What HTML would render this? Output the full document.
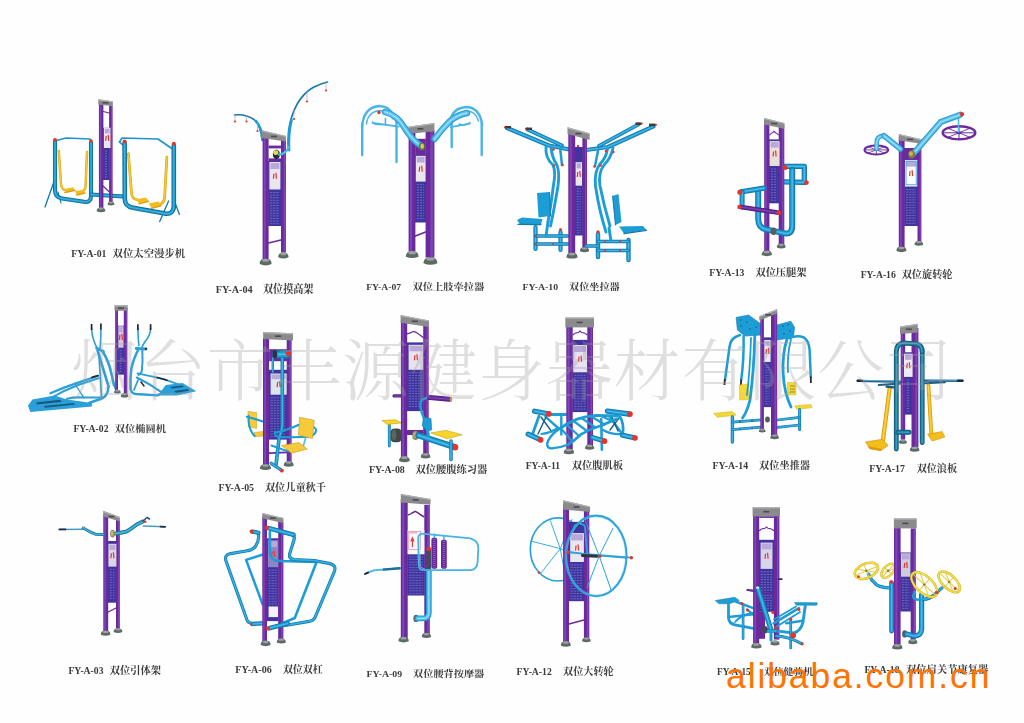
<!DOCTYPE html>
<html lang="zh-CN">
<head>
<meta charset="utf-8">
<title>烟台市丰源健身器材有限公司 - 健身器材</title>
<style>
html,body{margin:0;padding:0;background:#fefefe;}
body{width:1024px;height:723px;overflow:hidden;position:relative;font-family:"Liberation Serif","Noto Serif CJK SC",serif;}
svg{position:absolute;left:0;top:0;display:block;}
.lab text{font-family:"Liberation Serif","Noto Serif CJK SC",serif;font-weight:700;fill:#3a3a3a;}
.wm{font-family:"Liberation Serif","Noto Serif CJK SC",serif;font-size:67px;font-weight:300;fill:#a0a0a0;fill-opacity:.32;}
.ali{font-family:"Liberation Sans",sans-serif;font-size:35.5px;fill:#ff7300;letter-spacing:1.9px;}
</style>
</head>
<body>
<svg width="1024" height="723" viewBox="0 0 1024 723">
<defs><filter id="soft" x="-2%" y="-2%" width="104%" height="104%"><feGaussianBlur stdDeviation="0.65"/></filter></defs>
<rect width="1024" height="723" fill="#fefefe"/>
<g class="lab" filter="url(#soft)">
<text x="71.2" y="256.9" font-size="10.4" textLength="35.3" lengthAdjust="spacingAndGlyphs">FY-A-01</text><text x="112.6" y="256.9" font-size="10.4" textLength="72.5" lengthAdjust="spacingAndGlyphs">双位太空漫步机</text>
<text x="215.7" y="293.4" font-size="11.2" textLength="36.9" lengthAdjust="spacingAndGlyphs">FY-A-04</text><text x="262.9" y="293.4" font-size="11.2" textLength="50.6" lengthAdjust="spacingAndGlyphs">双位摸高架</text>
<text x="366.2" y="290.1" font-size="9.0" textLength="34.8" lengthAdjust="spacingAndGlyphs">FY-A-07</text><text x="412.6" y="290.1" font-size="9.0" textLength="71.8" lengthAdjust="spacingAndGlyphs">双位上肢牵拉器</text>
<text x="522.6" y="289.8" font-size="9.2" textLength="35.5" lengthAdjust="spacingAndGlyphs">FY-A-10</text><text x="569.1" y="289.8" font-size="9.2" textLength="50.6" lengthAdjust="spacingAndGlyphs">双位坐拉器</text>
<text x="709.3" y="275.6" font-size="9.7" textLength="35.1" lengthAdjust="spacingAndGlyphs">FY-A-13</text><text x="755.4" y="275.6" font-size="9.7" textLength="51.2" lengthAdjust="spacingAndGlyphs">双位压腿架</text>
<text x="860.7" y="277.6" font-size="9.7" textLength="35.1" lengthAdjust="spacingAndGlyphs">FY-A-16</text><text x="901.7" y="277.6" font-size="9.7" textLength="50.8" lengthAdjust="spacingAndGlyphs">双位旋转轮</text>
<text x="73.4" y="432.3" font-size="9.6" textLength="35.1" lengthAdjust="spacingAndGlyphs">FY-A-02</text><text x="114.7" y="432.3" font-size="9.6" textLength="51.3" lengthAdjust="spacingAndGlyphs">双位椭圆机</text>
<text x="218.4" y="490.6" font-size="10.0" textLength="35.6" lengthAdjust="spacingAndGlyphs">FY-A-05</text><text x="264.9" y="490.6" font-size="10.0" textLength="61.1" lengthAdjust="spacingAndGlyphs">双位儿童秋千</text>
<text x="368.9" y="472.6" font-size="10.0" textLength="35.9" lengthAdjust="spacingAndGlyphs">FY-A-08</text><text x="415.4" y="472.6" font-size="10.0" textLength="71.8" lengthAdjust="spacingAndGlyphs">双位腰腹练习器</text>
<text x="525.7" y="469.0" font-size="10.1" textLength="34.4" lengthAdjust="spacingAndGlyphs">FY-A-11</text><text x="571.7" y="469.0" font-size="10.1" textLength="51.3" lengthAdjust="spacingAndGlyphs">双位腹肌板</text>
<text x="712.6" y="468.6" font-size="9.7" textLength="35.5" lengthAdjust="spacingAndGlyphs">FY-A-14</text><text x="759.1" y="468.6" font-size="9.7" textLength="50.9" lengthAdjust="spacingAndGlyphs">双位坐推器</text>
<text x="869.3" y="472.0" font-size="10.1" textLength="35.5" lengthAdjust="spacingAndGlyphs">FY-A-17</text><text x="916.7" y="472.0" font-size="10.1" textLength="40.3" lengthAdjust="spacingAndGlyphs">双位浪板</text>
<text x="68.4" y="674.2" font-size="10.0" textLength="35.1" lengthAdjust="spacingAndGlyphs">FY-A-03</text><text x="109.7" y="674.2" font-size="10.0" textLength="51.3" lengthAdjust="spacingAndGlyphs">双位引体架</text>
<text x="235.3" y="673.2" font-size="10.0" textLength="36.4" lengthAdjust="spacingAndGlyphs">FY-A-06</text><text x="282.9" y="673.2" font-size="10.0" textLength="39.9" lengthAdjust="spacingAndGlyphs">双位双杠</text>
<text x="366.6" y="677.1" font-size="9.2" textLength="35.6" lengthAdjust="spacingAndGlyphs">FY-A-09</text><text x="413.1" y="677.1" font-size="9.2" textLength="71.1" lengthAdjust="spacingAndGlyphs">双位腰背按摩器</text>
<text x="516.6" y="674.6" font-size="9.7" textLength="35.2" lengthAdjust="spacingAndGlyphs">FY-A-12</text><text x="563.1" y="674.6" font-size="9.7" textLength="50.6" lengthAdjust="spacingAndGlyphs">双位大转轮</text>
<text x="717.0" y="675.0" font-size="9.6" textLength="33.7" lengthAdjust="spacingAndGlyphs">FY-A-15</text><text x="763.9" y="675.0" font-size="9.6" textLength="49.1" lengthAdjust="spacingAndGlyphs">双位健骑机</text>
<text x="864.4" y="672.6" font-size="10.3" textLength="35.1" lengthAdjust="spacingAndGlyphs">FY-A-18</text><text x="906.1" y="672.6" font-size="10.3" textLength="82.1" lengthAdjust="spacingAndGlyphs">双位肩关节康复器</text>
</g>
<g filter="url(#soft)">
<path d="M54.5,141 L66,138 L90,139 L91,142" stroke="#1c96c8" stroke-width="1.5" fill="none" stroke-linecap="round" stroke-linejoin="round"/>
<path d="M53.5,183 L45,207" stroke="#1478a8" stroke-width="1.3" fill="none" stroke-linecap="round" stroke-linejoin="round"/>
<path d="M58,192 L61,203" stroke="#1478a8" stroke-width="1.1" fill="none" stroke-linecap="round" stroke-linejoin="round"/>
<path d="M58.8,151 L61,184 Q61.5,189.5 66,190.5" stroke="#d99a10" stroke-width="2.4" fill="none" stroke-linecap="round" stroke-linejoin="round"/>
<path d="M58.8,151 L61,184 Q61.5,189.5 66,190.5" stroke="#f3bd1d" stroke-width="1.488" fill="none" stroke-linecap="round" stroke-linejoin="round"/>
<path d="M58.8,151 L61,184 Q61.5,189.5 66,190.5" stroke="#ffd94a" stroke-width="0.528" fill="none" stroke-linecap="round" stroke-linejoin="round"/>
<path d="M87,152 L85.6,186 Q85,192 80,193" stroke="#d99a10" stroke-width="2.4" fill="none" stroke-linecap="round" stroke-linejoin="round"/>
<path d="M87,152 L85.6,186 Q85,192 80,193" stroke="#f3bd1d" stroke-width="1.488" fill="none" stroke-linecap="round" stroke-linejoin="round"/>
<path d="M87,152 L85.6,186 Q85,192 80,193" stroke="#ffd94a" stroke-width="0.528" fill="none" stroke-linecap="round" stroke-linejoin="round"/>
<polygon points="64.5,189 73,187.3 75,190 66.5,192.6" fill="#f3bd1d" stroke="none" stroke-width="0" stroke-linejoin="round"/>
<polygon points="75,191.3 83,189.8 85,193 77,195" fill="#f3bd1d" stroke="none" stroke-width="0" stroke-linejoin="round"/>
<line x1="64.8" y1="192.6" x2="75" y2="190.4" stroke="#d99a10" stroke-width="1.2" stroke-linecap="round"/>
<line x1="76.5" y1="195.2" x2="85" y2="193.2" stroke="#d99a10" stroke-width="1.2" stroke-linecap="round"/>
<path d="M55,141.5 L55,190 Q55,197.5 62,198.5 L84,201.8 Q91,202.8 91,196 L91,142.5" stroke="#0f6c96" stroke-width="4.1" fill="none" stroke-linecap="round" stroke-linejoin="round"/>
<path d="M55,141.5 L55,190 Q55,197.5 62,198.5 L84,201.8 Q91,202.8 91,196 L91,142.5" stroke="#1c96c8" stroke-width="2.542" fill="none" stroke-linecap="round" stroke-linejoin="round"/>
<path d="M55,141.5 L55,190 Q55,197.5 62,198.5 L84,201.8 Q91,202.8 91,196 L91,142.5" stroke="#44b6e2" stroke-width="0.9019999999999999" fill="none" stroke-linecap="round" stroke-linejoin="round"/>
<circle cx="55" cy="139.8" r="1.9" fill="#e5352b"/>
<circle cx="91" cy="140.8" r="1.7" fill="#e5352b"/>
<path d="M91,194.5 L124,196.5" stroke="#0f6c96" stroke-width="4" fill="none" stroke-linecap="round" stroke-linejoin="round"/>
<path d="M91,194.5 L124,196.5" stroke="#1c96c8" stroke-width="2.48" fill="none" stroke-linecap="round" stroke-linejoin="round"/>
<path d="M91,194.5 L124,196.5" stroke="#44b6e2" stroke-width="0.88" fill="none" stroke-linecap="round" stroke-linejoin="round"/>
<rect x="102.9" y="127.8" width="6.699999999999989" height="52.2" fill="#40359f" rx="0"/>
<line x1="104.9" y1="151.0" x2="107.6" y2="151.0" stroke="#9c98e0" stroke-width="0.7" stroke-dasharray="2.2 0.9" opacity="0.75"/>
<line x1="104.9" y1="153.6" x2="107.6" y2="153.6" stroke="#9c98e0" stroke-width="0.7" stroke-dasharray="2.2 0.9" opacity="0.75"/>
<line x1="104.9" y1="156.2" x2="107.6" y2="156.2" stroke="#9c98e0" stroke-width="0.7" stroke-dasharray="2.2 0.9" opacity="0.75"/>
<line x1="104.9" y1="158.8" x2="107.6" y2="158.8" stroke="#9c98e0" stroke-width="0.7" stroke-dasharray="2.2 0.9" opacity="0.75"/>
<line x1="104.9" y1="161.4" x2="107.6" y2="161.4" stroke="#9c98e0" stroke-width="0.7" stroke-dasharray="2.2 0.9" opacity="0.75"/>
<line x1="104.9" y1="164.0" x2="107.6" y2="164.0" stroke="#9c98e0" stroke-width="0.7" stroke-dasharray="2.2 0.9" opacity="0.75"/>
<line x1="104.9" y1="166.6" x2="107.6" y2="166.6" stroke="#9c98e0" stroke-width="0.7" stroke-dasharray="2.2 0.9" opacity="0.75"/>
<line x1="104.9" y1="169.2" x2="107.6" y2="169.2" stroke="#9c98e0" stroke-width="0.7" stroke-dasharray="2.2 0.9" opacity="0.75"/>
<line x1="104.9" y1="171.8" x2="107.6" y2="171.8" stroke="#9c98e0" stroke-width="0.7" stroke-dasharray="2.2 0.9" opacity="0.75"/>
<line x1="104.9" y1="174.4" x2="107.6" y2="174.4" stroke="#9c98e0" stroke-width="0.7" stroke-dasharray="2.2 0.9" opacity="0.75"/>
<line x1="104.9" y1="177.0" x2="107.6" y2="177.0" stroke="#9c98e0" stroke-width="0.7" stroke-dasharray="2.2 0.9" opacity="0.75"/>
<rect x="109.1" y="106" width="3.5" height="97" fill="#6a2a9e" rx="0"/>
<rect x="111.02499999999999" y="106" width="1.05" height="97" fill="#7e44b4" rx="0"/>
<rect x="98.9" y="103" width="4.5" height="106" fill="#6a2a9e" rx="0"/>
<rect x="99.80000000000001" y="103" width="1.3499999999999999" height="106" fill="#7e44b4" rx="0"/>
<rect x="103.9" y="127.8" width="6.599999999999994" height="20.200000000000003" fill="#e9e6ee" rx="0"/>
<path d="M105.7,140.9 L106.2,135.9 M108.7,140.9 L108.2,134.9" stroke="#e5352b" stroke-width="1.2" fill="none"/>
<rect x="104.9" y="128.8" width="4.599999999999994" height="4.444000000000001" fill="#b9a8d8" rx="0"/>
<polygon points="98.3,99.2 112.8,101.2 112.8,106.2 98.3,104.4" fill="#8b8b8d" stroke="none" stroke-width="0" stroke-linejoin="round"/>
<line x1="98.3" y1="99.8" x2="112.8" y2="101.8" stroke="#b5b5b8" stroke-width="1.2"/>
<rect x="102.55" y="101.95" width="6" height="1.6" fill="#4c4c50" rx="0"/>
<path d="M96.6,211.24 Q96.6,207.4 101,207.4 Q105.4,207.4 105.4,211.24 Q101,213.16000000000003 96.6,211.24Z" fill="#5f6a66"/>
<ellipse cx="101" cy="208.60000000000002" rx="2.64" ry="1.08" fill="#9aa5a0"/>
<path d="M107.6,204.79999999999998 Q107.6,201.6 111,201.6 Q114.4,201.6 114.4,204.79999999999998 Q111,206.4 107.6,204.79999999999998Z" fill="#5f6a66"/>
<ellipse cx="111" cy="202.6" rx="2.04" ry="0.9" fill="#9aa5a0"/>
<path d="M103.4,111.5 L109.1,113" stroke="#6a2a9e" stroke-width="1.2" fill="none" stroke-linecap="round" stroke-linejoin="round"/>
<line x1="103" y1="186" x2="109.4" y2="192" stroke="#6a2a9e" stroke-width="1.2" stroke-linecap="round"/>
<path d="M119.5,142 L122,138 L158,139 L172.5,149" stroke="#1c96c8" stroke-width="1.7" fill="none" stroke-linecap="round" stroke-linejoin="round"/>
<path d="M119.5,142 L124,146" stroke="#1c96c8" stroke-width="1.6" fill="none" stroke-linecap="round" stroke-linejoin="round"/>
<path d="M172.5,195.6 L179.4,214.5" stroke="#1478a8" stroke-width="1.3" fill="none" stroke-linecap="round" stroke-linejoin="round"/>
<path d="M168.6,201 L159.7,221.6" stroke="#1478a8" stroke-width="1.3" fill="none" stroke-linecap="round" stroke-linejoin="round"/>
<path d="M128.4,153.5 L131.6,194 Q132,198.5 137.5,200" stroke="#d99a10" stroke-width="2.7" fill="none" stroke-linecap="round" stroke-linejoin="round"/>
<path d="M128.4,153.5 L131.6,194 Q132,198.5 137.5,200" stroke="#f3bd1d" stroke-width="1.6740000000000002" fill="none" stroke-linecap="round" stroke-linejoin="round"/>
<path d="M128.4,153.5 L131.6,194 Q132,198.5 137.5,200" stroke="#ffd94a" stroke-width="0.5940000000000001" fill="none" stroke-linecap="round" stroke-linejoin="round"/>
<path d="M166.9,157 L164.6,198 Q164,203.5 158.5,204.8" stroke="#d99a10" stroke-width="2.7" fill="none" stroke-linecap="round" stroke-linejoin="round"/>
<path d="M166.9,157 L164.6,198 Q164,203.5 158.5,204.8" stroke="#f3bd1d" stroke-width="1.6740000000000002" fill="none" stroke-linecap="round" stroke-linejoin="round"/>
<path d="M166.9,157 L164.6,198 Q164,203.5 158.5,204.8" stroke="#ffd94a" stroke-width="0.5940000000000001" fill="none" stroke-linecap="round" stroke-linejoin="round"/>
<polygon points="136.5,199.3 146,197.6 148.6,201 139,203.6" fill="#f3bd1d" stroke="none" stroke-width="0" stroke-linejoin="round"/>
<polygon points="148.6,203.6 158.5,201.5 161,205.5 151.5,208" fill="#f3bd1d" stroke="none" stroke-width="0" stroke-linejoin="round"/>
<line x1="139" y1="203.9" x2="148.6" y2="201.4" stroke="#d99a10" stroke-width="1.3" stroke-linecap="round"/>
<line x1="151.5" y1="208.3" x2="161" y2="205.9" stroke="#d99a10" stroke-width="1.3" stroke-linecap="round"/>
<path d="M124.6,143 L124.8,199 Q125,206.5 133,207.8 L165,213.6 Q173.4,214.6 173.8,206.5 L173.8,145.5" stroke="#0f6c96" stroke-width="4.6" fill="none" stroke-linecap="round" stroke-linejoin="round"/>
<path d="M124.6,143 L124.8,199 Q125,206.5 133,207.8 L165,213.6 Q173.4,214.6 173.8,206.5 L173.8,145.5" stroke="#1c96c8" stroke-width="2.852" fill="none" stroke-linecap="round" stroke-linejoin="round"/>
<path d="M124.6,143 L124.8,199 Q125,206.5 133,207.8 L165,213.6 Q173.4,214.6 173.8,206.5 L173.8,145.5" stroke="#44b6e2" stroke-width="1.012" fill="none" stroke-linecap="round" stroke-linejoin="round"/>
<circle cx="124.6" cy="141.6" r="2" fill="#e5352b"/>
<circle cx="173.8" cy="143.8" r="2" fill="#e5352b"/>
<path d="M262,140 Q261,126 254,119.5 Q245,113.5 234.5,115" stroke="#1478a8" stroke-width="1.6" fill="none" stroke-linecap="round" stroke-linejoin="round"/>
<path d="M262.5,140 Q262,128 256,121" stroke="#1f9dd6" stroke-width="2.6" fill="none" stroke-linecap="round" stroke-linejoin="round"/>
<line x1="235" y1="115.5" x2="235" y2="121.5" stroke="#b8a0c8" stroke-width="0.7" stroke-linecap="round"/>
<circle cx="235" cy="121.5" r="1.1" fill="#e5352b"/>
<line x1="246.5" y1="115.5" x2="246.5" y2="121.5" stroke="#b8a0c8" stroke-width="0.7" stroke-linecap="round"/>
<circle cx="246.5" cy="121.5" r="1.1" fill="#e5352b"/>
<line x1="257.5" y1="123" x2="257.5" y2="131" stroke="#b8a0c8" stroke-width="0.7" stroke-linecap="round"/>
<circle cx="257.5" cy="131" r="1.1" fill="#e5352b"/>
<path d="M288.5,149 Q287,130 292,116 Q299,95 314,87 Q321,83.5 327.5,82" stroke="#1478a8" stroke-width="1.7" fill="none" stroke-linecap="round" stroke-linejoin="round"/>
<path d="M289,150 Q288,134 291.5,120" stroke="#1f9dd6" stroke-width="2.8" fill="none" stroke-linecap="round" stroke-linejoin="round"/>
<line x1="326" y1="82.5" x2="326" y2="90.5" stroke="#b8a0c8" stroke-width="0.7" stroke-linecap="round"/>
<circle cx="326" cy="90.5" r="1.1" fill="#e5352b"/>
<line x1="307" y1="91.5" x2="307" y2="101.5" stroke="#b8a0c8" stroke-width="0.7" stroke-linecap="round"/>
<circle cx="307" cy="101.5" r="1.1" fill="#e5352b"/>
<line x1="294" y1="110" x2="294" y2="119" stroke="#b8a0c8" stroke-width="0.7" stroke-linecap="round"/>
<circle cx="294" cy="119" r="1.1" fill="#e5352b"/>
<rect x="268.1" y="161" width="13.399999999999977" height="65" fill="#40359f" rx="0"/>
<line x1="270.1" y1="192.5" x2="279.5" y2="192.5" stroke="#9c98e0" stroke-width="0.7" stroke-dasharray="2.2 0.9" opacity="0.75"/>
<line x1="270.1" y1="195.1" x2="279.5" y2="195.1" stroke="#9c98e0" stroke-width="0.7" stroke-dasharray="2.2 0.9" opacity="0.75"/>
<line x1="270.1" y1="197.7" x2="279.5" y2="197.7" stroke="#9c98e0" stroke-width="0.7" stroke-dasharray="2.2 0.9" opacity="0.75"/>
<line x1="270.1" y1="200.3" x2="279.5" y2="200.3" stroke="#9c98e0" stroke-width="0.7" stroke-dasharray="2.2 0.9" opacity="0.75"/>
<line x1="270.1" y1="202.9" x2="279.5" y2="202.9" stroke="#9c98e0" stroke-width="0.7" stroke-dasharray="2.2 0.9" opacity="0.75"/>
<line x1="270.1" y1="205.5" x2="279.5" y2="205.5" stroke="#9c98e0" stroke-width="0.7" stroke-dasharray="2.2 0.9" opacity="0.75"/>
<line x1="270.1" y1="208.1" x2="279.5" y2="208.1" stroke="#9c98e0" stroke-width="0.7" stroke-dasharray="2.2 0.9" opacity="0.75"/>
<line x1="270.1" y1="210.7" x2="279.5" y2="210.7" stroke="#9c98e0" stroke-width="0.7" stroke-dasharray="2.2 0.9" opacity="0.75"/>
<line x1="270.1" y1="213.3" x2="279.5" y2="213.3" stroke="#9c98e0" stroke-width="0.7" stroke-dasharray="2.2 0.9" opacity="0.75"/>
<line x1="270.1" y1="215.9" x2="279.5" y2="215.9" stroke="#9c98e0" stroke-width="0.7" stroke-dasharray="2.2 0.9" opacity="0.75"/>
<line x1="270.1" y1="218.5" x2="279.5" y2="218.5" stroke="#9c98e0" stroke-width="0.7" stroke-dasharray="2.2 0.9" opacity="0.75"/>
<line x1="270.1" y1="221.1" x2="279.5" y2="221.1" stroke="#9c98e0" stroke-width="0.7" stroke-dasharray="2.2 0.9" opacity="0.75"/>
<line x1="270.1" y1="223.7" x2="279.5" y2="223.7" stroke="#9c98e0" stroke-width="0.7" stroke-dasharray="2.2 0.9" opacity="0.75"/>
<rect x="281" y="140" width="4.899999999999977" height="112.5" fill="#6a2a9e" rx="0"/>
<rect x="283.695" y="140" width="1.469999999999993" height="112.5" fill="#7e44b4" rx="0"/>
<rect x="262.6" y="137" width="6.0" height="122" fill="#6a2a9e" rx="0"/>
<rect x="263.8" y="137" width="1.7999999999999998" height="122" fill="#7e44b4" rx="0"/>
<rect x="269.4" y="162" width="11.0" height="27.5" fill="#e9e6ee" rx="0"/>
<path d="M273.4,178.75 L273.9,173.75 M276.4,178.75 L275.9,172.75" stroke="#e5352b" stroke-width="1.2" fill="none"/>
<rect x="270.4" y="163" width="9.0" height="6.05" fill="#b9a8d8" rx="0"/>
<polygon points="262,130.3 285.9,135.9 285.9,141.6 262,138" fill="#8b8b8d" stroke="none" stroke-width="0" stroke-linejoin="round"/>
<line x1="262" y1="130.9" x2="285.9" y2="136.5" stroke="#b5b5b8" stroke-width="1.2"/>
<rect x="270.95" y="135.65" width="6" height="1.6" fill="#4c4c50" rx="0"/>
<path d="M259.6,264.04 Q259.6,258.6 265.6,258.6 Q271.6,258.6 271.6,264.04 Q265.6,266.76 259.6,264.04Z" fill="#5f6a66"/>
<ellipse cx="265.6" cy="260.3" rx="3.5999999999999996" ry="1.53" fill="#9aa5a0"/>
<path d="M278.2,257.2 Q278.2,252.4 283.4,252.4 Q288.59999999999997,252.4 288.59999999999997,257.2 Q283.4,259.6 278.2,257.2Z" fill="#5f6a66"/>
<ellipse cx="283.4" cy="253.9" rx="3.12" ry="1.35" fill="#9aa5a0"/>
<rect x="268.6" y="145.6" width="12.4" height="2.8" fill="#6a2a9e" rx="0"/>
<rect x="268.6" y="158.4" width="12.4" height="2.6" fill="#6a2a9e" rx="0"/>
<ellipse cx="276.4" cy="154.4" rx="3.6" ry="4.6" fill="#262a3a" stroke="none" stroke-width="0"/>
<ellipse cx="275.8" cy="152.6" rx="2.6" ry="2.4" fill="#e6dc4a" stroke="none" stroke-width="0"/>
<path d="M279,154.6 Q286,154 288.8,147" stroke="#4cbcea" stroke-width="2.2" fill="none" stroke-linecap="round" stroke-linejoin="round"/>
<line x1="268.6" y1="243" x2="281" y2="240" stroke="#6a2a9e" stroke-width="1.6" stroke-linecap="round"/>
<path d="M362,128 Q363,107.5 379,106 Q392,106.5 396.5,122" stroke="#4ab4e6" stroke-width="2.3" fill="none" stroke-linecap="round" stroke-linejoin="round"/>
<path d="M366.5,124 Q368,111.5 380,110.5 Q389,111 393,119" stroke="#4ab4e6" stroke-width="1.4" fill="none" stroke-linecap="round" stroke-linejoin="round"/>
<line x1="362.2" y1="124" x2="362.2" y2="155" stroke="#4ab4e6" stroke-width="2.4" stroke-linecap="round"/>
<line x1="396.5" y1="122" x2="396.5" y2="162" stroke="#4ab4e6" stroke-width="2.4" stroke-linecap="round"/>
<line x1="372.8" y1="123" x2="398.8" y2="126.7" stroke="#4ab4e6" stroke-width="1.8" stroke-linecap="round"/>
<line x1="385.4" y1="118.5" x2="385.4" y2="124.6" stroke="#4ab4e6" stroke-width="1.6" stroke-linecap="round"/>
<path d="M372.4,122 Q375,125.4 383,124.4" stroke="#4ab4e6" stroke-width="1.4" fill="none" stroke-linecap="round" stroke-linejoin="round"/>
<circle cx="379" cy="112.5" r="1.7" fill="#e5352b"/>
<path d="M450.5,121 Q452,108 467,107 Q480,108 482.2,125" stroke="#4ab4e6" stroke-width="2.3" fill="none" stroke-linecap="round" stroke-linejoin="round"/>
<path d="M454.5,119 Q457,111.5 467,111 Q476,111.5 478.5,121" stroke="#4ab4e6" stroke-width="1.4" fill="none" stroke-linecap="round" stroke-linejoin="round"/>
<line x1="451.7" y1="122" x2="451.7" y2="147" stroke="#4ab4e6" stroke-width="2.4" stroke-linecap="round"/>
<line x1="481.7" y1="123" x2="481.7" y2="155" stroke="#4ab4e6" stroke-width="2.4" stroke-linecap="round"/>
<line x1="450.7" y1="127.1" x2="469.8" y2="123.7" stroke="#4ab4e6" stroke-width="1.8" stroke-linecap="round"/>
<path d="M459,124 Q466,126.4 470,122.6" stroke="#4ab4e6" stroke-width="1.4" fill="none" stroke-linecap="round" stroke-linejoin="round"/>
<circle cx="466.5" cy="114" r="1.5" fill="#e5352b"/>
<rect x="414.9" y="155" width="11.200000000000045" height="67.5" fill="#40359f" rx="0"/>
<line x1="416.9" y1="184.6" x2="424.1" y2="184.6" stroke="#9c98e0" stroke-width="0.7" stroke-dasharray="2.2 0.9" opacity="0.75"/>
<line x1="416.9" y1="187.2" x2="424.1" y2="187.2" stroke="#9c98e0" stroke-width="0.7" stroke-dasharray="2.2 0.9" opacity="0.75"/>
<line x1="416.9" y1="189.8" x2="424.1" y2="189.8" stroke="#9c98e0" stroke-width="0.7" stroke-dasharray="2.2 0.9" opacity="0.75"/>
<line x1="416.9" y1="192.4" x2="424.1" y2="192.4" stroke="#9c98e0" stroke-width="0.7" stroke-dasharray="2.2 0.9" opacity="0.75"/>
<line x1="416.9" y1="195.0" x2="424.1" y2="195.0" stroke="#9c98e0" stroke-width="0.7" stroke-dasharray="2.2 0.9" opacity="0.75"/>
<line x1="416.9" y1="197.6" x2="424.1" y2="197.6" stroke="#9c98e0" stroke-width="0.7" stroke-dasharray="2.2 0.9" opacity="0.75"/>
<line x1="416.9" y1="200.2" x2="424.1" y2="200.2" stroke="#9c98e0" stroke-width="0.7" stroke-dasharray="2.2 0.9" opacity="0.75"/>
<line x1="416.9" y1="202.8" x2="424.1" y2="202.8" stroke="#9c98e0" stroke-width="0.7" stroke-dasharray="2.2 0.9" opacity="0.75"/>
<line x1="416.9" y1="205.4" x2="424.1" y2="205.4" stroke="#9c98e0" stroke-width="0.7" stroke-dasharray="2.2 0.9" opacity="0.75"/>
<line x1="416.9" y1="208.0" x2="424.1" y2="208.0" stroke="#9c98e0" stroke-width="0.7" stroke-dasharray="2.2 0.9" opacity="0.75"/>
<line x1="416.9" y1="210.6" x2="424.1" y2="210.6" stroke="#9c98e0" stroke-width="0.7" stroke-dasharray="2.2 0.9" opacity="0.75"/>
<line x1="416.9" y1="213.2" x2="424.1" y2="213.2" stroke="#9c98e0" stroke-width="0.7" stroke-dasharray="2.2 0.9" opacity="0.75"/>
<line x1="416.9" y1="215.8" x2="424.1" y2="215.8" stroke="#9c98e0" stroke-width="0.7" stroke-dasharray="2.2 0.9" opacity="0.75"/>
<line x1="416.9" y1="218.4" x2="424.1" y2="218.4" stroke="#9c98e0" stroke-width="0.7" stroke-dasharray="2.2 0.9" opacity="0.75"/>
<rect x="425.6" y="130" width="8.799999999999955" height="127.5" fill="#6a2a9e" rx="0"/>
<rect x="430.44" y="130" width="2.6399999999999864" height="127.5" fill="#7e44b4" rx="0"/>
<rect x="408.6" y="132" width="6.7999999999999545" height="119.5" fill="#6a2a9e" rx="0"/>
<rect x="409.96000000000004" y="132" width="2.0399999999999863" height="119.5" fill="#7e44b4" rx="0"/>
<rect x="415.8" y="155.8" width="9.800000000000011" height="25.799999999999983" fill="#e9e6ee" rx="0"/>
<path d="M419.20000000000005,171.7 L419.70000000000005,166.7 M422.20000000000005,171.7 L421.70000000000005,165.7" stroke="#e5352b" stroke-width="1.2" fill="none"/>
<rect x="416.8" y="156.8" width="7.800000000000011" height="5.675999999999997" fill="#b9a8d8" rx="0"/>
<polygon points="406.3,127.1 434.4,123 434.4,131.2 407.6,134" fill="#8b8b8d" stroke="none" stroke-width="0" stroke-linejoin="round"/>
<line x1="406.3" y1="127.69999999999999" x2="434.4" y2="123.6" stroke="#b5b5b8" stroke-width="1.2"/>
<rect x="417.35" y="128.02499999999998" width="6" height="1.6" fill="#4c4c50" rx="0"/>
<path d="M405.8,256.66 Q405.8,250.9 412.2,250.9 Q418.59999999999997,250.9 418.59999999999997,256.66 Q412.2,259.54 405.8,256.66Z" fill="#5f6a66"/>
<ellipse cx="412.2" cy="252.7" rx="3.84" ry="1.62" fill="#9aa5a0"/>
<path d="M423.4,263.28 Q423.4,257.2 430.4,257.2 Q437.4,257.2 437.4,263.28 Q430.4,266.32 423.4,263.28Z" fill="#5f6a66"/>
<ellipse cx="430.4" cy="259.1" rx="4.2" ry="1.71" fill="#9aa5a0"/>
<rect x="415.2" y="138.8" width="10.6" height="16.4" fill="#6a2a9e" rx="0"/>
<path d="M420.5,145.5 Q412,140 404,127 Q397,115 385,112" stroke="#2f9fd4" stroke-width="6.4" fill="none" stroke-linecap="round" stroke-linejoin="round"/>
<path d="M420.5,145.5 Q412,140 404,127 Q397,115 385,112" stroke="#5cc3ee" stroke-width="3.968" fill="none" stroke-linecap="round" stroke-linejoin="round"/>
<path d="M420.5,145.5 Q412,140 404,127 Q397,115 385,112" stroke="#9bdcf6" stroke-width="1.4080000000000001" fill="none" stroke-linecap="round" stroke-linejoin="round"/>
<path d="M434.5,139 Q442,129 450,121 Q458,114.5 467,113" stroke="#2f9fd4" stroke-width="6.4" fill="none" stroke-linecap="round" stroke-linejoin="round"/>
<path d="M434.5,139 Q442,129 450,121 Q458,114.5 467,113" stroke="#5cc3ee" stroke-width="3.968" fill="none" stroke-linecap="round" stroke-linejoin="round"/>
<path d="M434.5,139 Q442,129 450,121 Q458,114.5 467,113" stroke="#9bdcf6" stroke-width="1.4080000000000001" fill="none" stroke-linecap="round" stroke-linejoin="round"/>
<ellipse cx="421.8" cy="146.4" rx="3" ry="4" fill="#5c7a4a" stroke="none" stroke-width="0"/>
<ellipse cx="422.2" cy="146.2" rx="1.7" ry="2.6" fill="#d8d050" stroke="none" stroke-width="0"/>
<line x1="415.4" y1="236" x2="425.6" y2="232" stroke="#6a2a9e" stroke-width="1.6" stroke-linecap="round"/>
<path d="M507,128 L549,145.5 L572,150" stroke="#1478a8" stroke-width="4.2" fill="none" stroke-linecap="round" stroke-linejoin="round"/>
<path d="M507,128 L549,145.5 L572,150" stroke="#1f9dd6" stroke-width="2.604" fill="none" stroke-linecap="round" stroke-linejoin="round"/>
<path d="M507,128 L549,145.5 L572,150" stroke="#4cbcea" stroke-width="0.924" fill="none" stroke-linecap="round" stroke-linejoin="round"/>
<path d="M527.5,129.5 L562,145.5" stroke="#1478a8" stroke-width="3.8" fill="none" stroke-linecap="round" stroke-linejoin="round"/>
<path d="M527.5,129.5 L562,145.5" stroke="#1f9dd6" stroke-width="2.356" fill="none" stroke-linecap="round" stroke-linejoin="round"/>
<path d="M527.5,129.5 L562,145.5" stroke="#4cbcea" stroke-width="0.836" fill="none" stroke-linecap="round" stroke-linejoin="round"/>
<rect x="505" y="126" width="6" height="2.4" fill="#3a3a3a" rx="0"/>
<rect x="526" y="127.6" width="6" height="2.4" fill="#3a3a3a" rx="0"/>
<circle cx="504.8" cy="127.2" r="1" fill="#e5352b"/>
<circle cx="525.8" cy="128.8" r="1" fill="#e5352b"/>
<path d="M546,147 Q545,158 553,165 Q556,172 553.5,185 Q551,205 548,222" stroke="#1f9dd6" stroke-width="2.9" fill="none" stroke-linecap="round" stroke-linejoin="round"/>
<path d="M551,147 Q552,158 556.5,164 Q560,172 558,186 Q554,210 550.5,226" stroke="#1f9dd6" stroke-width="2.9" fill="none" stroke-linecap="round" stroke-linejoin="round"/>
<path d="M560,147 L562,165" stroke="#1f9dd6" stroke-width="2.5" fill="none" stroke-linecap="round" stroke-linejoin="round"/>
<circle cx="553.5" cy="149.5" r="1.3" fill="#e5352b"/>
<circle cx="554" cy="165.5" r="1.3" fill="#e5352b"/>
<circle cx="562.5" cy="165" r="1.3" fill="#e5352b"/>
<polygon points="537,193 549.5,192 550.5,216 538.5,217.5" fill="#1f9dd6" stroke="none" stroke-width="0" stroke-linejoin="round"/>
<line x1="549.5" y1="192.5" x2="550.5" y2="216" stroke="#1478a8" stroke-width="1" stroke-linecap="round"/>
<polygon points="517,220 522,217.5 542.5,219 541,224.6 520,224.4" fill="#1f9dd6" stroke="none" stroke-width="0" stroke-linejoin="round"/>
<line x1="518" y1="224.4" x2="541" y2="224.6" stroke="#1478a8" stroke-width="1.2" stroke-linecap="round"/>
<path d="M535.5,227 L535.5,249" stroke="#1478a8" stroke-width="4.2" fill="none" stroke-linecap="round" stroke-linejoin="round"/>
<path d="M535.5,227 L535.5,249" stroke="#1f9dd6" stroke-width="2.604" fill="none" stroke-linecap="round" stroke-linejoin="round"/>
<path d="M535.5,227 L535.5,249" stroke="#4cbcea" stroke-width="0.924" fill="none" stroke-linecap="round" stroke-linejoin="round"/>
<path d="M560.5,232 L560.5,250" stroke="#1478a8" stroke-width="4.2" fill="none" stroke-linecap="round" stroke-linejoin="round"/>
<path d="M560.5,232 L560.5,250" stroke="#1f9dd6" stroke-width="2.604" fill="none" stroke-linecap="round" stroke-linejoin="round"/>
<path d="M560.5,232 L560.5,250" stroke="#4cbcea" stroke-width="0.924" fill="none" stroke-linecap="round" stroke-linejoin="round"/>
<path d="M536,236 L568,236" stroke="#1478a8" stroke-width="3.3" fill="none" stroke-linecap="round" stroke-linejoin="round"/>
<path d="M536,236 L568,236" stroke="#1f9dd6" stroke-width="2.046" fill="none" stroke-linecap="round" stroke-linejoin="round"/>
<path d="M536,236 L568,236" stroke="#4cbcea" stroke-width="0.726" fill="none" stroke-linecap="round" stroke-linejoin="round"/>
<path d="M536,244 L568,244" stroke="#1478a8" stroke-width="3.3" fill="none" stroke-linecap="round" stroke-linejoin="round"/>
<path d="M536,244 L568,244" stroke="#1f9dd6" stroke-width="2.046" fill="none" stroke-linecap="round" stroke-linejoin="round"/>
<path d="M536,244 L568,244" stroke="#4cbcea" stroke-width="0.726" fill="none" stroke-linecap="round" stroke-linejoin="round"/>
<circle cx="560.5" cy="229.5" r="1.5" fill="#e5352b"/>
<circle cx="536" cy="236" r="1.1" fill="#e5352b"/>
<circle cx="536" cy="244" r="1.1" fill="#e5352b"/>
<circle cx="553" cy="244" r="1.1" fill="#e5352b"/>
<path d="M548,222 L546,236" stroke="#1f9dd6" stroke-width="2.9" fill="none" stroke-linecap="round" stroke-linejoin="round"/>
<path d="M653.5,126.4 L608,147 L586,150" stroke="#1478a8" stroke-width="4.2" fill="none" stroke-linecap="round" stroke-linejoin="round"/>
<path d="M653.5,126.4 L608,147 L586,150" stroke="#1f9dd6" stroke-width="2.604" fill="none" stroke-linecap="round" stroke-linejoin="round"/>
<path d="M653.5,126.4 L608,147 L586,150" stroke="#4cbcea" stroke-width="0.924" fill="none" stroke-linecap="round" stroke-linejoin="round"/>
<path d="M638.6,124.4 L599,145.8" stroke="#1478a8" stroke-width="3.8" fill="none" stroke-linecap="round" stroke-linejoin="round"/>
<path d="M638.6,124.4 L599,145.8" stroke="#1f9dd6" stroke-width="2.356" fill="none" stroke-linecap="round" stroke-linejoin="round"/>
<path d="M638.6,124.4 L599,145.8" stroke="#4cbcea" stroke-width="0.836" fill="none" stroke-linecap="round" stroke-linejoin="round"/>
<rect x="649" y="123.6" width="6.6" height="2.6" fill="#3a3a3a" rx="0"/>
<rect x="635.4" y="122.4" width="6" height="2.6" fill="#3a3a3a" rx="0"/>
<circle cx="656" cy="124.8" r="1" fill="#e5352b"/>
<circle cx="641.8" cy="123.6" r="1" fill="#e5352b"/>
<rect x="574.7" y="147" width="8.199999999999932" height="88.5" fill="#40359f" rx="0"/>
<line x1="576.7" y1="188.7" x2="580.9" y2="188.7" stroke="#9c98e0" stroke-width="0.7" stroke-dasharray="2.2 0.9" opacity="0.75"/>
<line x1="576.7" y1="191.3" x2="580.9" y2="191.3" stroke="#9c98e0" stroke-width="0.7" stroke-dasharray="2.2 0.9" opacity="0.75"/>
<line x1="576.7" y1="193.9" x2="580.9" y2="193.9" stroke="#9c98e0" stroke-width="0.7" stroke-dasharray="2.2 0.9" opacity="0.75"/>
<line x1="576.7" y1="196.5" x2="580.9" y2="196.5" stroke="#9c98e0" stroke-width="0.7" stroke-dasharray="2.2 0.9" opacity="0.75"/>
<line x1="576.7" y1="199.1" x2="580.9" y2="199.1" stroke="#9c98e0" stroke-width="0.7" stroke-dasharray="2.2 0.9" opacity="0.75"/>
<line x1="576.7" y1="201.7" x2="580.9" y2="201.7" stroke="#9c98e0" stroke-width="0.7" stroke-dasharray="2.2 0.9" opacity="0.75"/>
<line x1="576.7" y1="204.3" x2="580.9" y2="204.3" stroke="#9c98e0" stroke-width="0.7" stroke-dasharray="2.2 0.9" opacity="0.75"/>
<line x1="576.7" y1="206.9" x2="580.9" y2="206.9" stroke="#9c98e0" stroke-width="0.7" stroke-dasharray="2.2 0.9" opacity="0.75"/>
<line x1="576.7" y1="209.5" x2="580.9" y2="209.5" stroke="#9c98e0" stroke-width="0.7" stroke-dasharray="2.2 0.9" opacity="0.75"/>
<line x1="576.7" y1="212.1" x2="580.9" y2="212.1" stroke="#9c98e0" stroke-width="0.7" stroke-dasharray="2.2 0.9" opacity="0.75"/>
<line x1="576.7" y1="214.7" x2="580.9" y2="214.7" stroke="#9c98e0" stroke-width="0.7" stroke-dasharray="2.2 0.9" opacity="0.75"/>
<line x1="576.7" y1="217.3" x2="580.9" y2="217.3" stroke="#9c98e0" stroke-width="0.7" stroke-dasharray="2.2 0.9" opacity="0.75"/>
<line x1="576.7" y1="219.9" x2="580.9" y2="219.9" stroke="#9c98e0" stroke-width="0.7" stroke-dasharray="2.2 0.9" opacity="0.75"/>
<line x1="576.7" y1="222.5" x2="580.9" y2="222.5" stroke="#9c98e0" stroke-width="0.7" stroke-dasharray="2.2 0.9" opacity="0.75"/>
<line x1="576.7" y1="225.1" x2="580.9" y2="225.1" stroke="#9c98e0" stroke-width="0.7" stroke-dasharray="2.2 0.9" opacity="0.75"/>
<line x1="576.7" y1="227.7" x2="580.9" y2="227.7" stroke="#9c98e0" stroke-width="0.7" stroke-dasharray="2.2 0.9" opacity="0.75"/>
<line x1="576.7" y1="230.3" x2="580.9" y2="230.3" stroke="#9c98e0" stroke-width="0.7" stroke-dasharray="2.2 0.9" opacity="0.75"/>
<line x1="576.7" y1="232.9" x2="580.9" y2="232.9" stroke="#9c98e0" stroke-width="0.7" stroke-dasharray="2.2 0.9" opacity="0.75"/>
<rect x="582.4" y="135" width="4.600000000000023" height="113" fill="#6a2a9e" rx="0"/>
<rect x="584.93" y="135" width="1.3800000000000068" height="113" fill="#7e44b4" rx="0"/>
<rect x="568.3" y="131" width="6.900000000000091" height="122.5" fill="#6a2a9e" rx="0"/>
<rect x="569.68" y="131" width="2.0700000000000274" height="122.5" fill="#7e44b4" rx="0"/>
<rect x="575.6" y="162.2" width="6.399999999999977" height="23.5" fill="#e9e6ee" rx="0"/>
<path d="M577.3,176.95 L577.8,171.95 M580.3,176.95 L579.8,170.95" stroke="#e5352b" stroke-width="1.2" fill="none"/>
<rect x="576.6" y="163.2" width="4.399999999999977" height="5.17" fill="#b9a8d8" rx="0"/>
<polygon points="567.5,127.3 589.6,133.2 589.6,139.9 567.5,133.9" fill="#8b8b8d" stroke="none" stroke-width="0" stroke-linejoin="round"/>
<line x1="567.5" y1="127.89999999999999" x2="589.6" y2="133.79999999999998" stroke="#b5b5b8" stroke-width="1.2"/>
<rect x="575.55" y="132.77499999999998" width="6" height="1.6" fill="#4c4c50" rx="0"/>
<path d="M566.4,257.4 Q566.4,252.6 572,252.6 Q577.6,252.6 577.6,257.4 Q572,259.8 566.4,257.4Z" fill="#5f6a66"/>
<ellipse cx="572" cy="254.1" rx="3.36" ry="1.35" fill="#9aa5a0"/>
<path d="M579.9,251.16 Q579.9,247.0 584.5,247.0 Q589.1,247.0 589.1,251.16 Q584.5,253.23999999999998 579.9,251.16Z" fill="#5f6a66"/>
<ellipse cx="584.5" cy="248.29999999999998" rx="2.76" ry="1.1700000000000002" fill="#9aa5a0"/>
<circle cx="578" cy="146" r="1.2" fill="#e5352b"/>
<path d="M613,148 Q611,158 604,165 Q598,173 600,186 Q604,206 610,226" stroke="#1f9dd6" stroke-width="2.9" fill="none" stroke-linecap="round" stroke-linejoin="round"/>
<path d="M607.5,149 Q606,158 600,164 Q594,172 595.5,186 Q599,210 606,232" stroke="#1f9dd6" stroke-width="2.9" fill="none" stroke-linecap="round" stroke-linejoin="round"/>
<path d="M598,151 L595,166" stroke="#1f9dd6" stroke-width="2.5" fill="none" stroke-linecap="round" stroke-linejoin="round"/>
<circle cx="606" cy="151" r="1.3" fill="#e5352b"/>
<circle cx="600.5" cy="165.5" r="1.3" fill="#e5352b"/>
<circle cx="594.5" cy="166.5" r="1.3" fill="#e5352b"/>
<circle cx="613.5" cy="152" r="1.2" fill="#e5352b"/>
<polygon points="612.5,196 618.5,194 621.5,222 615.5,225" fill="#1f9dd6" stroke="none" stroke-width="0" stroke-linejoin="round"/>
<line x1="612.6" y1="196" x2="615.5" y2="225" stroke="#1478a8" stroke-width="1" stroke-linecap="round"/>
<polygon points="619,226.5 643,226 646.5,230 624,233.5" fill="#1f9dd6" stroke="none" stroke-width="0" stroke-linejoin="round"/>
<line x1="624" y1="233.6" x2="646.5" y2="230.4" stroke="#1478a8" stroke-width="1.3" stroke-linecap="round"/>
<path d="M598,234 L598,257" stroke="#1478a8" stroke-width="4.4" fill="none" stroke-linecap="round" stroke-linejoin="round"/>
<path d="M598,234 L598,257" stroke="#1f9dd6" stroke-width="2.728" fill="none" stroke-linecap="round" stroke-linejoin="round"/>
<path d="M598,234 L598,257" stroke="#4cbcea" stroke-width="0.9680000000000001" fill="none" stroke-linecap="round" stroke-linejoin="round"/>
<path d="M628.5,240 L628.5,260" stroke="#1478a8" stroke-width="4.4" fill="none" stroke-linecap="round" stroke-linejoin="round"/>
<path d="M628.5,240 L628.5,260" stroke="#1f9dd6" stroke-width="2.728" fill="none" stroke-linecap="round" stroke-linejoin="round"/>
<path d="M628.5,240 L628.5,260" stroke="#4cbcea" stroke-width="0.9680000000000001" fill="none" stroke-linecap="round" stroke-linejoin="round"/>
<path d="M598,241.5 L628,241.5" stroke="#1478a8" stroke-width="3.4" fill="none" stroke-linecap="round" stroke-linejoin="round"/>
<path d="M598,241.5 L628,241.5" stroke="#1f9dd6" stroke-width="2.108" fill="none" stroke-linecap="round" stroke-linejoin="round"/>
<path d="M598,241.5 L628,241.5" stroke="#4cbcea" stroke-width="0.748" fill="none" stroke-linecap="round" stroke-linejoin="round"/>
<path d="M586,246 L598,246" stroke="#1478a8" stroke-width="3.4" fill="none" stroke-linecap="round" stroke-linejoin="round"/>
<path d="M586,246 L598,246" stroke="#1f9dd6" stroke-width="2.108" fill="none" stroke-linecap="round" stroke-linejoin="round"/>
<path d="M586,246 L598,246" stroke="#4cbcea" stroke-width="0.748" fill="none" stroke-linecap="round" stroke-linejoin="round"/>
<path d="M598,250.5 L628,250.5" stroke="#1478a8" stroke-width="3.4" fill="none" stroke-linecap="round" stroke-linejoin="round"/>
<path d="M598,250.5 L628,250.5" stroke="#1f9dd6" stroke-width="2.108" fill="none" stroke-linecap="round" stroke-linejoin="round"/>
<path d="M598,250.5 L628,250.5" stroke="#4cbcea" stroke-width="0.748" fill="none" stroke-linecap="round" stroke-linejoin="round"/>
<circle cx="598" cy="231.8" r="1.6" fill="#e5352b"/>
<circle cx="605" cy="241.5" r="1.1" fill="#e5352b"/>
<circle cx="605" cy="250.5" r="1.1" fill="#e5352b"/>
<circle cx="620" cy="241.5" r="1.1" fill="#e5352b"/>
<circle cx="620" cy="250.5" r="1.1" fill="#e5352b"/>
<path d="M609,228 L611,241" stroke="#1f9dd6" stroke-width="2.9" fill="none" stroke-linecap="round" stroke-linejoin="round"/>
<path d="M785,166.4 L804.3,166.4 L804.3,182.4 L784.3,181.8" stroke="#1478a8" stroke-width="5.3" fill="none" stroke-linecap="round" stroke-linejoin="round"/>
<path d="M785,166.4 L804.3,166.4 L804.3,182.4 L784.3,181.8" stroke="#1f9dd6" stroke-width="3.286" fill="none" stroke-linecap="round" stroke-linejoin="round"/>
<path d="M785,166.4 L804.3,166.4 L804.3,182.4 L784.3,181.8" stroke="#4cbcea" stroke-width="1.166" fill="none" stroke-linecap="round" stroke-linejoin="round"/>
<rect x="768.9" y="139.4" width="10.300000000000068" height="63.900000000000006" fill="#40359f" rx="0"/>
<line x1="770.9" y1="169.0" x2="777.2" y2="169.0" stroke="#9c98e0" stroke-width="0.7" stroke-dasharray="2.2 0.9" opacity="0.75"/>
<line x1="770.9" y1="171.6" x2="777.2" y2="171.6" stroke="#9c98e0" stroke-width="0.7" stroke-dasharray="2.2 0.9" opacity="0.75"/>
<line x1="770.9" y1="174.2" x2="777.2" y2="174.2" stroke="#9c98e0" stroke-width="0.7" stroke-dasharray="2.2 0.9" opacity="0.75"/>
<line x1="770.9" y1="176.8" x2="777.2" y2="176.8" stroke="#9c98e0" stroke-width="0.7" stroke-dasharray="2.2 0.9" opacity="0.75"/>
<line x1="770.9" y1="179.4" x2="777.2" y2="179.4" stroke="#9c98e0" stroke-width="0.7" stroke-dasharray="2.2 0.9" opacity="0.75"/>
<line x1="770.9" y1="182.0" x2="777.2" y2="182.0" stroke="#9c98e0" stroke-width="0.7" stroke-dasharray="2.2 0.9" opacity="0.75"/>
<line x1="770.9" y1="184.6" x2="777.2" y2="184.6" stroke="#9c98e0" stroke-width="0.7" stroke-dasharray="2.2 0.9" opacity="0.75"/>
<line x1="770.9" y1="187.2" x2="777.2" y2="187.2" stroke="#9c98e0" stroke-width="0.7" stroke-dasharray="2.2 0.9" opacity="0.75"/>
<line x1="770.9" y1="189.8" x2="777.2" y2="189.8" stroke="#9c98e0" stroke-width="0.7" stroke-dasharray="2.2 0.9" opacity="0.75"/>
<line x1="770.9" y1="192.4" x2="777.2" y2="192.4" stroke="#9c98e0" stroke-width="0.7" stroke-dasharray="2.2 0.9" opacity="0.75"/>
<line x1="770.9" y1="195.0" x2="777.2" y2="195.0" stroke="#9c98e0" stroke-width="0.7" stroke-dasharray="2.2 0.9" opacity="0.75"/>
<line x1="770.9" y1="197.6" x2="777.2" y2="197.6" stroke="#9c98e0" stroke-width="0.7" stroke-dasharray="2.2 0.9" opacity="0.75"/>
<line x1="770.9" y1="200.2" x2="777.2" y2="200.2" stroke="#9c98e0" stroke-width="0.7" stroke-dasharray="2.2 0.9" opacity="0.75"/>
<path d="M769.4,135.3 Q770.9,133.1 772.5,132.7 L774.0,131.3 L775.5,132.7 Q777.2,133.1 778.7,135.3" stroke="#6a2a9e" stroke-width="1.1" fill="none"/>
<rect x="778.7" y="124" width="5.599999999999909" height="120.5" fill="#6a2a9e" rx="0"/>
<rect x="781.78" y="124" width="1.6799999999999726" height="120.5" fill="#7e44b4" rx="0"/>
<rect x="764.2" y="120" width="5.199999999999932" height="131" fill="#6a2a9e" rx="0"/>
<rect x="765.24" y="120" width="1.5599999999999794" height="131" fill="#7e44b4" rx="0"/>
<rect x="769.6" y="141.1" width="10.0" height="24.900000000000006" fill="#eadfd6" rx="0"/>
<path d="M773.1,156.55 L773.6,151.55 M776.1,156.55 L775.6,150.55" stroke="#e5352b" stroke-width="1.2" fill="none"/>
<rect x="770.6" y="142.1" width="8.0" height="5.4780000000000015" fill="#b9a8d8" rx="0"/>
<polygon points="764.2,117.9 784.3,122.9 784.3,128.7 764.2,124.5" fill="#8b8b8d" stroke="none" stroke-width="0" stroke-linejoin="round"/>
<line x1="764.2" y1="118.5" x2="784.3" y2="123.5" stroke="#b5b5b8" stroke-width="1.2"/>
<rect x="771.25" y="122.7" width="6" height="1.6" fill="#4c4c50" rx="0"/>
<path d="M761.5999999999999,255.08 Q761.5999999999999,250.6 766.8,250.6 Q772.0,250.6 772.0,255.08 Q766.8,257.32 761.5999999999999,255.08Z" fill="#5f6a66"/>
<ellipse cx="766.8" cy="252.0" rx="3.12" ry="1.26" fill="#9aa5a0"/>
<path d="M776.8000000000001,247.44 Q776.8000000000001,243.6 781.2,243.6 Q785.6,243.6 785.6,247.44 Q781.2,249.36 776.8000000000001,247.44Z" fill="#5f6a66"/>
<ellipse cx="781.2" cy="244.8" rx="2.64" ry="1.08" fill="#9aa5a0"/>
<path d="M758.2,192 L758.2,219 Q758.4,227.8 766,229.4 L785,233.4 Q792.2,234.4 792.2,226 L792.2,170" stroke="#1478a8" stroke-width="6" fill="none" stroke-linecap="round" stroke-linejoin="round"/>
<path d="M758.2,192 L758.2,219 Q758.4,227.8 766,229.4 L785,233.4 Q792.2,234.4 792.2,226 L792.2,170" stroke="#1f9dd6" stroke-width="3.7199999999999998" fill="none" stroke-linecap="round" stroke-linejoin="round"/>
<path d="M758.2,192 L758.2,219 Q758.4,227.8 766,229.4 L785,233.4 Q792.2,234.4 792.2,226 L792.2,170" stroke="#4cbcea" stroke-width="1.32" fill="none" stroke-linecap="round" stroke-linejoin="round"/>
<path d="M741,191.9 L764,188.2" stroke="#1478a8" stroke-width="5.4" fill="none" stroke-linecap="round" stroke-linejoin="round"/>
<path d="M741,191.9 L764,188.2" stroke="#1f9dd6" stroke-width="3.3480000000000003" fill="none" stroke-linecap="round" stroke-linejoin="round"/>
<path d="M741,191.9 L764,188.2" stroke="#4cbcea" stroke-width="1.1880000000000002" fill="none" stroke-linecap="round" stroke-linejoin="round"/>
<path d="M742.1,192 L742.1,207" stroke="#1478a8" stroke-width="5" fill="none" stroke-linecap="round" stroke-linejoin="round"/>
<path d="M742.1,192 L742.1,207" stroke="#1f9dd6" stroke-width="3.1" fill="none" stroke-linecap="round" stroke-linejoin="round"/>
<path d="M742.1,192 L742.1,207" stroke="#4cbcea" stroke-width="1.1" fill="none" stroke-linecap="round" stroke-linejoin="round"/>
<path d="M741,206.9 L777.5,212.6" stroke="#50207e" stroke-width="4.6" fill="none" stroke-linecap="round" stroke-linejoin="round"/>
<path d="M741,206.9 L777.5,212.6" stroke="#6a2a9e" stroke-width="2.852" fill="none" stroke-linecap="round" stroke-linejoin="round"/>
<path d="M741,206.9 L777.5,212.6" stroke="#7e44b4" stroke-width="1.012" fill="none" stroke-linecap="round" stroke-linejoin="round"/>
<circle cx="739.8" cy="192.3" r="2.5" fill="#e5352b"/>
<circle cx="739.5" cy="207" r="2.2" fill="#e5352b"/>
<circle cx="778.8" cy="212.8" r="2.3" fill="#e5352b"/>
<circle cx="785" cy="167.6" r="2.5" fill="#e5352b"/>
<circle cx="806.4" cy="182.6" r="2.4" fill="#e5352b"/>
<ellipse cx="773.5" cy="231.3" rx="3" ry="3.8" fill="#59605c" stroke="none" stroke-width="0"/>
<ellipse cx="876.3" cy="149.9" rx="11.8" ry="4.5" fill="none" stroke="#6a2a9e" stroke-width="2"/>
<line x1="864.5" y1="149.9" x2="888" y2="149.9" stroke="#6a2a9e" stroke-width="0.9" stroke-linecap="round"/>
<line x1="876.3" y1="145.4" x2="876.3" y2="154.4" stroke="#6a2a9e" stroke-width="0.9" stroke-linecap="round"/>
<line x1="868" y1="146.7" x2="884.6" y2="153.1" stroke="#6a2a9e" stroke-width="0.8" stroke-linecap="round"/>
<line x1="868" y1="153.1" x2="884.6" y2="146.7" stroke="#6a2a9e" stroke-width="0.8" stroke-linecap="round"/>
<path d="M876.5,149 L876.8,142 Q877,136.4 883,135.8" stroke="#2f9fd4" stroke-width="4.6" fill="none" stroke-linecap="round" stroke-linejoin="round"/>
<path d="M876.5,149 L876.8,142 Q877,136.4 883,135.8" stroke="#5cc3ee" stroke-width="2.852" fill="none" stroke-linecap="round" stroke-linejoin="round"/>
<path d="M876.5,149 L876.8,142 Q877,136.4 883,135.8" stroke="#9bdcf6" stroke-width="1.012" fill="none" stroke-linecap="round" stroke-linejoin="round"/>
<ellipse cx="959" cy="132.8" rx="16.3" ry="6.6" fill="none" stroke="#6a2a9e" stroke-width="2.4"/>
<ellipse cx="959" cy="132.8" rx="3" ry="1.4" fill="#6a2a9e" stroke="none" stroke-width="0"/>
<line x1="942.7" y1="132.8" x2="975.3" y2="132.8" stroke="#6a2a9e" stroke-width="1" stroke-linecap="round"/>
<line x1="959" y1="126.2" x2="959" y2="139.4" stroke="#6a2a9e" stroke-width="1" stroke-linecap="round"/>
<line x1="947.5" y1="128.1" x2="970.5" y2="137.5" stroke="#6a2a9e" stroke-width="0.9" stroke-linecap="round"/>
<line x1="947.5" y1="137.5" x2="970.5" y2="128.1" stroke="#6a2a9e" stroke-width="0.9" stroke-linecap="round"/>
<line x1="958.5" y1="116" x2="958.5" y2="132" stroke="#4cbcea" stroke-width="1.6" stroke-linecap="round"/>
<rect x="904.1" y="148" width="13.899999999999977" height="78" fill="#40359f" rx="0"/>
<line x1="906.1" y1="189.5" x2="916.0" y2="189.5" stroke="#9c98e0" stroke-width="0.7" stroke-dasharray="2.2 0.9" opacity="0.75"/>
<line x1="906.1" y1="192.1" x2="916.0" y2="192.1" stroke="#9c98e0" stroke-width="0.7" stroke-dasharray="2.2 0.9" opacity="0.75"/>
<line x1="906.1" y1="194.7" x2="916.0" y2="194.7" stroke="#9c98e0" stroke-width="0.7" stroke-dasharray="2.2 0.9" opacity="0.75"/>
<line x1="906.1" y1="197.3" x2="916.0" y2="197.3" stroke="#9c98e0" stroke-width="0.7" stroke-dasharray="2.2 0.9" opacity="0.75"/>
<line x1="906.1" y1="199.9" x2="916.0" y2="199.9" stroke="#9c98e0" stroke-width="0.7" stroke-dasharray="2.2 0.9" opacity="0.75"/>
<line x1="906.1" y1="202.5" x2="916.0" y2="202.5" stroke="#9c98e0" stroke-width="0.7" stroke-dasharray="2.2 0.9" opacity="0.75"/>
<line x1="906.1" y1="205.1" x2="916.0" y2="205.1" stroke="#9c98e0" stroke-width="0.7" stroke-dasharray="2.2 0.9" opacity="0.75"/>
<line x1="906.1" y1="207.7" x2="916.0" y2="207.7" stroke="#9c98e0" stroke-width="0.7" stroke-dasharray="2.2 0.9" opacity="0.75"/>
<line x1="906.1" y1="210.3" x2="916.0" y2="210.3" stroke="#9c98e0" stroke-width="0.7" stroke-dasharray="2.2 0.9" opacity="0.75"/>
<line x1="906.1" y1="212.9" x2="916.0" y2="212.9" stroke="#9c98e0" stroke-width="0.7" stroke-dasharray="2.2 0.9" opacity="0.75"/>
<line x1="906.1" y1="215.5" x2="916.0" y2="215.5" stroke="#9c98e0" stroke-width="0.7" stroke-dasharray="2.2 0.9" opacity="0.75"/>
<line x1="906.1" y1="218.1" x2="916.0" y2="218.1" stroke="#9c98e0" stroke-width="0.7" stroke-dasharray="2.2 0.9" opacity="0.75"/>
<line x1="906.1" y1="220.7" x2="916.0" y2="220.7" stroke="#9c98e0" stroke-width="0.7" stroke-dasharray="2.2 0.9" opacity="0.75"/>
<line x1="906.1" y1="223.3" x2="916.0" y2="223.3" stroke="#9c98e0" stroke-width="0.7" stroke-dasharray="2.2 0.9" opacity="0.75"/>
<rect x="917.5" y="143.5" width="3.8999999999999773" height="98.30000000000001" fill="#6a2a9e" rx="0"/>
<rect x="919.645" y="143.5" width="1.169999999999993" height="98.30000000000001" fill="#7e44b4" rx="0"/>
<rect x="898.8" y="137" width="5.800000000000068" height="110" fill="#6a2a9e" rx="0"/>
<rect x="899.9599999999999" y="137" width="1.7400000000000204" height="110" fill="#7e44b4" rx="0"/>
<rect x="905" y="159.8" width="12.200000000000045" height="26.69999999999999" fill="#ffffff" rx="0"/>
<path d="M909.6,176.15 L910.1,171.15 M912.6,176.15 L912.1,170.15" stroke="#e5352b" stroke-width="1.2" fill="none"/>
<rect x="906" y="160.8" width="10.200000000000045" height="5.873999999999998" fill="#b9a8d8" rx="0"/>
<polygon points="898.8,133.9 921.6,139.2 921.6,143.8 898.8,140.5" fill="#8b8b8d" stroke="none" stroke-width="0" stroke-linejoin="round"/>
<line x1="898.8" y1="134.5" x2="921.6" y2="139.79999999999998" stroke="#b5b5b8" stroke-width="1.2"/>
<rect x="907.2" y="138.55" width="6" height="1.6" fill="#4c4c50" rx="0"/>
<path d="M896.4,251.08 Q896.4,246.6 901.4,246.6 Q906.4,246.6 906.4,251.08 Q901.4,253.32 896.4,251.08Z" fill="#5f6a66"/>
<ellipse cx="901.4" cy="248.0" rx="3.0" ry="1.26" fill="#9aa5a0"/>
<path d="M914.4,244.84 Q914.4,241.0 918.8,241.0 Q923.1999999999999,241.0 923.1999999999999,244.84 Q918.8,246.76000000000002 914.4,244.84Z" fill="#5f6a66"/>
<ellipse cx="918.8" cy="242.20000000000002" rx="2.64" ry="1.08" fill="#9aa5a0"/>
<rect x="904.4" y="148" width="13.2" height="11.8" fill="#6a2a9e" rx="0"/>
<rect x="906" y="161.2" width="10.2" height="23.6" fill="none" stroke="#3aa0dc" stroke-width="0.9"/>
<path d="M900.5,149 Q893,143 884,135.8" stroke="#2f9fd4" stroke-width="5.6" fill="none" stroke-linecap="round" stroke-linejoin="round"/>
<path d="M900.5,149 Q893,143 884,135.8" stroke="#5cc3ee" stroke-width="3.472" fill="none" stroke-linecap="round" stroke-linejoin="round"/>
<path d="M900.5,149 Q893,143 884,135.8" stroke="#9bdcf6" stroke-width="1.232" fill="none" stroke-linecap="round" stroke-linejoin="round"/>
<path d="M913.5,153.5 L941,121.8 L960,114.8" stroke="#2f9fd4" stroke-width="6.2" fill="none" stroke-linecap="round" stroke-linejoin="round"/>
<path d="M913.5,153.5 L941,121.8 L960,114.8" stroke="#5cc3ee" stroke-width="3.844" fill="none" stroke-linecap="round" stroke-linejoin="round"/>
<path d="M913.5,153.5 L941,121.8 L960,114.8" stroke="#9bdcf6" stroke-width="1.364" fill="none" stroke-linecap="round" stroke-linejoin="round"/>
<ellipse cx="911.7" cy="154.4" rx="3.4" ry="4" fill="#7d7a4a" stroke="none" stroke-width="0"/>
<ellipse cx="911" cy="153.6" rx="2" ry="2.4" fill="#c8b44a" stroke="none" stroke-width="0"/>
<circle cx="962" cy="114.2" r="2.1" fill="#e5352b"/>
<path d="M91.6,329 Q92,338 96.8,347.7" stroke="#2b9fd8" stroke-width="1.6" fill="none" stroke-linecap="round" stroke-linejoin="round"/>
<path d="M100.9,329 Q101,338 100.2,347.7" stroke="#2b9fd8" stroke-width="1.6" fill="none" stroke-linecap="round" stroke-linejoin="round"/>
<line x1="91.6" y1="324" x2="91.6" y2="330" stroke="#2a2226" stroke-width="1.7" stroke-linecap="butt"/>
<line x1="100.9" y1="323.5" x2="100.9" y2="329.6" stroke="#2a2226" stroke-width="1.7" stroke-linecap="butt"/>
<path d="M96.5,348 L103.5,351.5" stroke="#2b9fd8" stroke-width="2.6" fill="none" stroke-linecap="round" stroke-linejoin="round"/>
<path d="M97.5,350.4 Q103,368 108.5,386.4" stroke="#2b9fd8" stroke-width="2.6" fill="none" stroke-linecap="round" stroke-linejoin="round"/>
<path d="M103,351.8 Q109,362 111,372 Q113,380 114,385" stroke="#2b9fd8" stroke-width="2.6" fill="none" stroke-linecap="round" stroke-linejoin="round"/>
<path d="M98.8,353.2 L101.6,397.5" stroke="#2b9fd8" stroke-width="1.7" fill="none" stroke-linecap="round" stroke-linejoin="round"/>
<path d="M108.5,386.4 Q108,395 103,398 L89.1,403" stroke="#2b9fd8" stroke-width="2.4" fill="none" stroke-linecap="round" stroke-linejoin="round"/>
<path d="M114,385 L116,390" stroke="#2b9fd8" stroke-width="2" fill="none" stroke-linecap="round" stroke-linejoin="round"/>
<polygon points="27.9,405.8 32.4,399.5 54.6,395.4 67,399.5 91.9,403 91.9,406.4 30.4,412" fill="#2b9fd8" stroke="none" stroke-width="0" stroke-linejoin="round"/>
<polygon points="36,402.6 60,399.8 62,401.8 37,404.6" fill="#17597c" stroke="none" stroke-width="0" stroke-linejoin="round"/>
<polygon points="44,406 74,403 75,404.6 45,407.8" fill="#17597c" stroke="none" stroke-width="0" stroke-linejoin="round"/>
<path d="M50.4,393.3 Q62,388 75.3,383.6 L97.5,376" stroke="#2b9fd8" stroke-width="2.2" fill="none" stroke-linecap="round" stroke-linejoin="round"/>
<path d="M51.8,397.5 Q65,390 78.1,385 L98.8,378.1" stroke="#2b9fd8" stroke-width="2" fill="none" stroke-linecap="round" stroke-linejoin="round"/>
<path d="M67,398.8 Q75,397 82.2,397.5 L103,397.5" stroke="#2b9fd8" stroke-width="2.2" fill="none" stroke-linecap="round" stroke-linejoin="round"/>
<path d="M75,384 Q80,392 84,398" stroke="#2b9fd8" stroke-width="1.4" fill="none" stroke-linecap="round" stroke-linejoin="round"/>
<line x1="92" y1="377.4" x2="98" y2="375.6" stroke="#2a2a30" stroke-width="1.8" stroke-linecap="round"/>
<path d="M137.9,329 Q138,338 138.9,345.6" stroke="#2b9fd8" stroke-width="1.6" fill="none" stroke-linecap="round" stroke-linejoin="round"/>
<path d="M150.6,329 Q150,336 145.1,341.5 Q142.5,345 141.7,348.4" stroke="#2b9fd8" stroke-width="1.6" fill="none" stroke-linecap="round" stroke-linejoin="round"/>
<line x1="137.9" y1="324.2" x2="137.9" y2="330" stroke="#2a2226" stroke-width="1.7" stroke-linecap="butt"/>
<line x1="150.6" y1="324.2" x2="150.6" y2="330" stroke="#2a2226" stroke-width="1.7" stroke-linecap="butt"/>
<path d="M136.3,348.4 L146,349" stroke="#2b9fd8" stroke-width="3" fill="none" stroke-linecap="round" stroke-linejoin="round"/>
<circle cx="146" cy="348.8" r="1.1" fill="#2a2226"/>
<path d="M138.2,349.8 Q133,360 131.3,369.2 Q130,380 130.6,388.5" stroke="#2b9fd8" stroke-width="2.5" fill="none" stroke-linecap="round" stroke-linejoin="round"/>
<path d="M142.3,350.5 Q143,362 141.7,371.9 L138.5,375" stroke="#2b9fd8" stroke-width="2" fill="none" stroke-linecap="round" stroke-linejoin="round"/>
<path d="M130.6,388.5 Q131,393.5 136,394 L157.6,395.4 L171.4,388.5" stroke="#2b9fd8" stroke-width="2.4" fill="none" stroke-linecap="round" stroke-linejoin="round"/>
<path d="M137.5,373.3 L163.1,378.8 L182.5,385.8" stroke="#2b9fd8" stroke-width="1.8" fill="none" stroke-linecap="round" stroke-linejoin="round"/>
<line x1="157" y1="377.6" x2="167" y2="380.2" stroke="#2a2a30" stroke-width="1.5" stroke-linecap="round"/>
<path d="M136.8,377.5 Q148,383 160.3,391.3" stroke="#2b9fd8" stroke-width="2" fill="none" stroke-linecap="round" stroke-linejoin="round"/>
<path d="M138,380 L134,390" stroke="#2b9fd8" stroke-width="1.8" fill="none" stroke-linecap="round" stroke-linejoin="round"/>
<line x1="141" y1="382" x2="144" y2="386" stroke="#2a2a30" stroke-width="1.5" stroke-linecap="round"/>
<polygon points="165.9,385.1 182.5,383 196.3,391.3 176.9,395.4 157.6,395.4" fill="#2b9fd8" stroke="none" stroke-width="0" stroke-linejoin="round"/>
<polygon points="170,387 182,385.6 184,387 172,388.6" fill="#17597c" stroke="none" stroke-width="0" stroke-linejoin="round"/>
<polygon points="174,391 188,389 190,390.6 176,392.8" fill="#17597c" stroke="none" stroke-width="0" stroke-linejoin="round"/>
<rect x="117.5" y="325.7" width="6.799999999999997" height="49.0" fill="#40359f" rx="0"/>
<line x1="119.5" y1="350.7" x2="122.3" y2="350.7" stroke="#9c98e0" stroke-width="0.7" stroke-dasharray="2.2 0.9" opacity="0.75"/>
<line x1="119.5" y1="353.3" x2="122.3" y2="353.3" stroke="#9c98e0" stroke-width="0.7" stroke-dasharray="2.2 0.9" opacity="0.75"/>
<line x1="119.5" y1="355.9" x2="122.3" y2="355.9" stroke="#9c98e0" stroke-width="0.7" stroke-dasharray="2.2 0.9" opacity="0.75"/>
<line x1="119.5" y1="358.5" x2="122.3" y2="358.5" stroke="#9c98e0" stroke-width="0.7" stroke-dasharray="2.2 0.9" opacity="0.75"/>
<line x1="119.5" y1="361.1" x2="122.3" y2="361.1" stroke="#9c98e0" stroke-width="0.7" stroke-dasharray="2.2 0.9" opacity="0.75"/>
<line x1="119.5" y1="363.7" x2="122.3" y2="363.7" stroke="#9c98e0" stroke-width="0.7" stroke-dasharray="2.2 0.9" opacity="0.75"/>
<line x1="119.5" y1="366.3" x2="122.3" y2="366.3" stroke="#9c98e0" stroke-width="0.7" stroke-dasharray="2.2 0.9" opacity="0.75"/>
<line x1="119.5" y1="368.9" x2="122.3" y2="368.9" stroke="#9c98e0" stroke-width="0.7" stroke-dasharray="2.2 0.9" opacity="0.75"/>
<line x1="119.5" y1="371.5" x2="122.3" y2="371.5" stroke="#9c98e0" stroke-width="0.7" stroke-dasharray="2.2 0.9" opacity="0.75"/>
<rect x="123.8" y="308" width="3.6000000000000085" height="86" fill="#6a2a9e" rx="0"/>
<rect x="125.78" y="308" width="1.0800000000000025" height="86" fill="#7e44b4" rx="0"/>
<rect x="115.2" y="307" width="2.799999999999997" height="83" fill="#6a2a9e" rx="0"/>
<rect x="115.76" y="307" width="0.8399999999999991" height="83" fill="#7e44b4" rx="0"/>
<rect x="118.3" y="326.2" width="5.200000000000003" height="21.5" fill="#d8c4dc" rx="0"/>
<path d="M119.4,339.95 L119.9,334.95 M122.4,339.95 L121.9,333.95" stroke="#e5352b" stroke-width="1.2" fill="none"/>
<rect x="119.3" y="327.2" width="3.200000000000003" height="4.73" fill="#b9a8d8" rx="0"/>
<polygon points="114.5,305.3 127.7,305.3 127.7,310.8 114.5,310.8" fill="#8b8b8d" stroke="none" stroke-width="0" stroke-linejoin="round"/>
<line x1="114.5" y1="305.90000000000003" x2="127.7" y2="305.90000000000003" stroke="#b5b5b8" stroke-width="1.2"/>
<rect x="118.1" y="307.25" width="6" height="1.6" fill="#4c4c50" rx="0"/>
<path d="M114.0,392.74 Q114.0,389.70000000000005 117.4,389.70000000000005 Q120.80000000000001,389.70000000000005 120.80000000000001,392.74 Q117.4,394.26000000000005 114.0,392.74Z" fill="#5f6a66"/>
<ellipse cx="117.4" cy="390.65000000000003" rx="2.04" ry="0.855" fill="#9aa5a0"/>
<path d="M120.8,396.65999999999997 Q120.8,393.29999999999995 124.6,393.29999999999995 Q128.4,393.29999999999995 128.4,396.65999999999997 Q124.6,398.34 120.8,396.65999999999997Z" fill="#5f6a66"/>
<ellipse cx="124.6" cy="394.34999999999997" rx="2.28" ry="0.9450000000000001" fill="#9aa5a0"/>
<polygon points="247.9,411.4 256.7,412.6 256.7,428.5 248.5,426.7" fill="#f6ca38" stroke="#c89a20" stroke-width="0.5" stroke-linejoin="round"/>
<polygon points="253.8,432.6 263,431.4 263,436.1 254.4,436.7" fill="#f6ca38" stroke="#c89a20" stroke-width="0.5" stroke-linejoin="round"/>
<path d="M248.6,416 Q248.4,425 250.3,429.1 Q252,433.5 254.6,436.1" stroke="#1f9dd6" stroke-width="2.1" fill="none" stroke-linecap="round" stroke-linejoin="round"/>
<path d="M246.9,416.7 L263,421.4" stroke="#1f9dd6" stroke-width="2.1" fill="none" stroke-linecap="round" stroke-linejoin="round"/>
<rect x="268.6" y="369.8" width="18.599999999999966" height="69.80000000000001" fill="#40359f" rx="0"/>
<line x1="270.6" y1="397.7" x2="285.2" y2="397.7" stroke="#9c98e0" stroke-width="0.7" stroke-dasharray="2.2 0.9" opacity="0.75"/>
<line x1="270.6" y1="400.3" x2="285.2" y2="400.3" stroke="#9c98e0" stroke-width="0.7" stroke-dasharray="2.2 0.9" opacity="0.75"/>
<line x1="270.6" y1="402.9" x2="285.2" y2="402.9" stroke="#9c98e0" stroke-width="0.7" stroke-dasharray="2.2 0.9" opacity="0.75"/>
<line x1="270.6" y1="405.5" x2="285.2" y2="405.5" stroke="#9c98e0" stroke-width="0.7" stroke-dasharray="2.2 0.9" opacity="0.75"/>
<line x1="270.6" y1="408.1" x2="285.2" y2="408.1" stroke="#9c98e0" stroke-width="0.7" stroke-dasharray="2.2 0.9" opacity="0.75"/>
<line x1="270.6" y1="410.7" x2="285.2" y2="410.7" stroke="#9c98e0" stroke-width="0.7" stroke-dasharray="2.2 0.9" opacity="0.75"/>
<line x1="270.6" y1="413.3" x2="285.2" y2="413.3" stroke="#9c98e0" stroke-width="0.7" stroke-dasharray="2.2 0.9" opacity="0.75"/>
<line x1="270.6" y1="415.9" x2="285.2" y2="415.9" stroke="#9c98e0" stroke-width="0.7" stroke-dasharray="2.2 0.9" opacity="0.75"/>
<line x1="270.6" y1="418.5" x2="285.2" y2="418.5" stroke="#9c98e0" stroke-width="0.7" stroke-dasharray="2.2 0.9" opacity="0.75"/>
<line x1="270.6" y1="421.1" x2="285.2" y2="421.1" stroke="#9c98e0" stroke-width="0.7" stroke-dasharray="2.2 0.9" opacity="0.75"/>
<line x1="270.6" y1="423.7" x2="285.2" y2="423.7" stroke="#9c98e0" stroke-width="0.7" stroke-dasharray="2.2 0.9" opacity="0.75"/>
<line x1="270.6" y1="426.3" x2="285.2" y2="426.3" stroke="#9c98e0" stroke-width="0.7" stroke-dasharray="2.2 0.9" opacity="0.75"/>
<line x1="270.6" y1="428.9" x2="285.2" y2="428.9" stroke="#9c98e0" stroke-width="0.7" stroke-dasharray="2.2 0.9" opacity="0.75"/>
<line x1="270.6" y1="431.5" x2="285.2" y2="431.5" stroke="#9c98e0" stroke-width="0.7" stroke-dasharray="2.2 0.9" opacity="0.75"/>
<line x1="270.6" y1="434.1" x2="285.2" y2="434.1" stroke="#9c98e0" stroke-width="0.7" stroke-dasharray="2.2 0.9" opacity="0.75"/>
<line x1="270.6" y1="436.7" x2="285.2" y2="436.7" stroke="#9c98e0" stroke-width="0.7" stroke-dasharray="2.2 0.9" opacity="0.75"/>
<rect x="286.7" y="339" width="4.900000000000034" height="123.60000000000002" fill="#6a2a9e" rx="0"/>
<rect x="289.395" y="339" width="1.4700000000000102" height="123.60000000000002" fill="#7e44b4" rx="0"/>
<rect x="263" y="338" width="6.100000000000023" height="127.5" fill="#6a2a9e" rx="0"/>
<rect x="264.22" y="338" width="1.8300000000000067" height="127.5" fill="#7e44b4" rx="0"/>
<rect x="270.6" y="373.5" width="16.099999999999966" height="21.19999999999999" fill="#dfe3ea" rx="0"/>
<path d="M277.15,387.1 L277.65,382.1 M280.15,387.1 L279.65,381.1" stroke="#e5352b" stroke-width="1.2" fill="none"/>
<rect x="271.6" y="374.5" width="14.099999999999966" height="4.663999999999998" fill="#b9a8d8" rx="0"/>
<polygon points="263.2,332 293,333.3 293,340.6 263.2,338.9" fill="#8b8b8d" stroke="none" stroke-width="0" stroke-linejoin="round"/>
<line x1="263.2" y1="332.6" x2="293" y2="333.90000000000003" stroke="#b5b5b8" stroke-width="1.2"/>
<rect x="275.1" y="335.4" width="6" height="1.6" fill="#4c4c50" rx="0"/>
<path d="M259.9,468.8 Q259.9,464 265.5,464 Q271.1,464 271.1,468.8 Q265.5,471.2 259.9,468.8Z" fill="#5f6a66"/>
<ellipse cx="265.5" cy="465.5" rx="3.36" ry="1.35" fill="#9aa5a0"/>
<path d="M283.7,465.68 Q283.7,461.2 288.7,461.2 Q293.7,461.2 293.7,465.68 Q288.7,467.92 283.7,465.68Z" fill="#5f6a66"/>
<ellipse cx="288.7" cy="462.6" rx="3.0" ry="1.26" fill="#9aa5a0"/>
<rect x="269.1" y="349.2" width="17.8" height="12" fill="#6a2a9e" rx="0"/>
<path d="M272.8,358 L272.8,372" stroke="#1478a8" stroke-width="2.4" fill="none" stroke-linecap="round" stroke-linejoin="round"/>
<path d="M272.8,358 L272.8,372" stroke="#1f9dd6" stroke-width="1.488" fill="none" stroke-linecap="round" stroke-linejoin="round"/>
<path d="M272.8,358 L272.8,372" stroke="#4cbcea" stroke-width="0.528" fill="none" stroke-linecap="round" stroke-linejoin="round"/>
<path d="M276.5,354.3 L287,354.3" stroke="#1478a8" stroke-width="8.4" fill="none" stroke-linecap="round" stroke-linejoin="round"/>
<path d="M276.5,354.3 L287,354.3" stroke="#1f9dd6" stroke-width="5.208" fill="none" stroke-linecap="round" stroke-linejoin="round"/>
<path d="M276.5,354.3 L287,354.3" stroke="#4cbcea" stroke-width="1.848" fill="none" stroke-linecap="round" stroke-linejoin="round"/>
<ellipse cx="275" cy="354.3" rx="2.2" ry="4.2" fill="#2b3140" stroke="none" stroke-width="0"/>
<circle cx="288.4" cy="353.6" r="2.6" fill="#e5352b"/>
<line x1="269.1" y1="453.2" x2="286.7" y2="452.4" stroke="#6a2a9e" stroke-width="1.7" stroke-linecap="round"/>
<path d="M298.4,425 Q312,424 316,429 Q316.6,434 310.2,436.7 L291.4,437.3" stroke="#1f9dd6" stroke-width="1.9" fill="none" stroke-linecap="round" stroke-linejoin="round"/>
<polygon points="299.6,417.3 314.3,420.3 312.5,438.5 298.4,435" fill="#f6ca38" stroke="#c89a20" stroke-width="0.6" stroke-linejoin="round"/>
<path d="M305.5,438.5 L303.1,446.7" stroke="#5cc0ec" stroke-width="1.8" fill="none" stroke-linecap="round" stroke-linejoin="round"/>
<polygon points="281.4,445.5 299,442.6 307.3,449 291.4,453.2" fill="#f6ca38" stroke="#c89a20" stroke-width="0.6" stroke-linejoin="round"/>
<path d="M282.3,358 L282.3,425 Q282,432 279.1,438 L276.1,464.3" stroke="#1478a8" stroke-width="3.6" fill="none" stroke-linecap="round" stroke-linejoin="round"/>
<path d="M282.3,358 L282.3,425 Q282,432 279.1,438 L276.1,464.3" stroke="#1f9dd6" stroke-width="2.232" fill="none" stroke-linecap="round" stroke-linejoin="round"/>
<path d="M282.3,358 L282.3,425 Q282,432 279.1,438 L276.1,464.3" stroke="#4cbcea" stroke-width="0.792" fill="none" stroke-linecap="round" stroke-linejoin="round"/>
<path d="M275,432.6 Q285,431 298.4,425" stroke="#1f9dd6" stroke-width="2" fill="none" stroke-linecap="round" stroke-linejoin="round"/>
<path d="M275,432.6 Q273.6,436 280,437.2 L291.4,437.3" stroke="#1f9dd6" stroke-width="1.9" fill="none" stroke-linecap="round" stroke-linejoin="round"/>
<path d="M271.4,445.5 L287.9,451.4" stroke="#1f9dd6" stroke-width="1.9" fill="none" stroke-linecap="round" stroke-linejoin="round"/>
<path d="M271.2,463.3 L281,469.8" stroke="#1478a8" stroke-width="3.3" fill="none" stroke-linecap="round" stroke-linejoin="round"/>
<path d="M271.2,463.3 L281,469.8" stroke="#1f9dd6" stroke-width="2.046" fill="none" stroke-linecap="round" stroke-linejoin="round"/>
<path d="M271.2,463.3 L281,469.8" stroke="#4cbcea" stroke-width="0.726" fill="none" stroke-linecap="round" stroke-linejoin="round"/>
<circle cx="281.9" cy="470.7" r="1.9" fill="#e5352b"/>
<path d="M389.3,425 L389.3,446" stroke="#1478a8" stroke-width="2.8" fill="none" stroke-linecap="round" stroke-linejoin="round"/>
<path d="M389.3,425 L389.3,446" stroke="#1f9dd6" stroke-width="1.736" fill="none" stroke-linecap="round" stroke-linejoin="round"/>
<path d="M389.3,425 L389.3,446" stroke="#4cbcea" stroke-width="0.616" fill="none" stroke-linecap="round" stroke-linejoin="round"/>
<rect x="390.6" y="428.5" width="10.8" height="13.8" rx="4" fill="#3f4a44"/>
<ellipse cx="394" cy="435" rx="2.4" ry="5.4" fill="#5a665e" stroke="none" stroke-width="0"/>
<polygon points="381.9,420.5 395.6,419.8 401.2,422.9 387.5,424.4" fill="#f6d62a" stroke="#d4a818" stroke-width="0.7" stroke-linejoin="round"/>
<path d="M394,395.9 L401.4,395.9" stroke="#50207e" stroke-width="3.2" fill="none" stroke-linecap="round" stroke-linejoin="round"/>
<path d="M394,395.9 L401.4,395.9" stroke="#6a2a9e" stroke-width="1.984" fill="none" stroke-linecap="round" stroke-linejoin="round"/>
<path d="M394,395.9 L401.4,395.9" stroke="#7e44b4" stroke-width="0.7040000000000001" fill="none" stroke-linecap="round" stroke-linejoin="round"/>
<rect x="406.7" y="342.4" width="17.0" height="68.70000000000005" fill="#40359f" rx="0"/>
<line x1="408.7" y1="372.8" x2="421.7" y2="372.8" stroke="#9c98e0" stroke-width="0.7" stroke-dasharray="2.2 0.9" opacity="0.75"/>
<line x1="408.7" y1="375.4" x2="421.7" y2="375.4" stroke="#9c98e0" stroke-width="0.7" stroke-dasharray="2.2 0.9" opacity="0.75"/>
<line x1="408.7" y1="378.0" x2="421.7" y2="378.0" stroke="#9c98e0" stroke-width="0.7" stroke-dasharray="2.2 0.9" opacity="0.75"/>
<line x1="408.7" y1="380.6" x2="421.7" y2="380.6" stroke="#9c98e0" stroke-width="0.7" stroke-dasharray="2.2 0.9" opacity="0.75"/>
<line x1="408.7" y1="383.2" x2="421.7" y2="383.2" stroke="#9c98e0" stroke-width="0.7" stroke-dasharray="2.2 0.9" opacity="0.75"/>
<line x1="408.7" y1="385.8" x2="421.7" y2="385.8" stroke="#9c98e0" stroke-width="0.7" stroke-dasharray="2.2 0.9" opacity="0.75"/>
<line x1="408.7" y1="388.4" x2="421.7" y2="388.4" stroke="#9c98e0" stroke-width="0.7" stroke-dasharray="2.2 0.9" opacity="0.75"/>
<line x1="408.7" y1="391.0" x2="421.7" y2="391.0" stroke="#9c98e0" stroke-width="0.7" stroke-dasharray="2.2 0.9" opacity="0.75"/>
<line x1="408.7" y1="393.6" x2="421.7" y2="393.6" stroke="#9c98e0" stroke-width="0.7" stroke-dasharray="2.2 0.9" opacity="0.75"/>
<line x1="408.7" y1="396.2" x2="421.7" y2="396.2" stroke="#9c98e0" stroke-width="0.7" stroke-dasharray="2.2 0.9" opacity="0.75"/>
<line x1="408.7" y1="398.8" x2="421.7" y2="398.8" stroke="#9c98e0" stroke-width="0.7" stroke-dasharray="2.2 0.9" opacity="0.75"/>
<line x1="408.7" y1="401.4" x2="421.7" y2="401.4" stroke="#9c98e0" stroke-width="0.7" stroke-dasharray="2.2 0.9" opacity="0.75"/>
<line x1="408.7" y1="404.0" x2="421.7" y2="404.0" stroke="#9c98e0" stroke-width="0.7" stroke-dasharray="2.2 0.9" opacity="0.75"/>
<line x1="408.7" y1="406.6" x2="421.7" y2="406.6" stroke="#9c98e0" stroke-width="0.7" stroke-dasharray="2.2 0.9" opacity="0.75"/>
<rect x="423.2" y="325" width="5.5" height="129.7" fill="#6a2a9e" rx="0"/>
<rect x="426.22499999999997" y="325" width="1.65" height="129.7" fill="#7e44b4" rx="0"/>
<rect x="400.9" y="320" width="6.300000000000011" height="137.2" fill="#6a2a9e" rx="0"/>
<rect x="402.15999999999997" y="320" width="1.8900000000000032" height="137.2" fill="#7e44b4" rx="0"/>
<rect x="408.6" y="344.8" width="14.599999999999966" height="25.0" fill="#e6e2f0" rx="0"/>
<path d="M414.4,360.3 L414.9,355.3 M417.4,360.3 L416.9,354.3" stroke="#e5352b" stroke-width="1.2" fill="none"/>
<rect x="409.6" y="345.8" width="12.599999999999966" height="5.5" fill="#b9a8d8" rx="0"/>
<polygon points="400.6,315 429,320.4 429,327 400.6,322.8" fill="#8b8b8d" stroke="none" stroke-width="0" stroke-linejoin="round"/>
<line x1="400.6" y1="315.6" x2="429" y2="321.0" stroke="#b5b5b8" stroke-width="1.2"/>
<rect x="411.8" y="320.5" width="6" height="1.6" fill="#4c4c50" rx="0"/>
<path d="M399.0,461.0 Q399.0,456.2 404.4,456.2 Q409.79999999999995,456.2 409.79999999999995,461.0 Q404.4,463.4 399.0,461.0Z" fill="#5f6a66"/>
<ellipse cx="404.4" cy="457.7" rx="3.24" ry="1.35" fill="#9aa5a0"/>
<path d="M420.8,457.42 Q420.8,453.1 425.6,453.1 Q430.40000000000003,453.1 430.40000000000003,457.42 Q425.6,459.58 420.8,457.42Z" fill="#5f6a66"/>
<ellipse cx="425.6" cy="454.45" rx="2.88" ry="1.215" fill="#9aa5a0"/>
<path d="M407,333.8 Q410,333.4 412,332 L414,331.4 L416.5,332.6 Q420,335 423.4,337.8" stroke="#6a2a9e" stroke-width="1.2" fill="none"/>
<rect x="407" y="430" width="16.4" height="5" fill="#6a2a9e" rx="0"/>
<ellipse cx="415.5" cy="435.4" rx="3.2" ry="4.6" fill="#8d8a5c" stroke="none" stroke-width="0"/>
<ellipse cx="414.8" cy="435" rx="1.8" ry="3" fill="#b0ac78" stroke="none" stroke-width="0"/>
<path d="M418.5,435.4 L453.6,446.8" stroke="#1478a8" stroke-width="6.2" fill="none" stroke-linecap="round" stroke-linejoin="round"/>
<path d="M418.5,435.4 L453.6,446.8" stroke="#1f9dd6" stroke-width="3.844" fill="none" stroke-linecap="round" stroke-linejoin="round"/>
<path d="M418.5,435.4 L453.6,446.8" stroke="#4cbcea" stroke-width="1.364" fill="none" stroke-linecap="round" stroke-linejoin="round"/>
<circle cx="455" cy="447.3" r="3.3" fill="#e5352b"/>
<path d="M451,441 L451,459.6" stroke="#1478a8" stroke-width="3.5" fill="none" stroke-linecap="round" stroke-linejoin="round"/>
<path d="M451,441 L451,459.6" stroke="#1f9dd6" stroke-width="2.17" fill="none" stroke-linecap="round" stroke-linejoin="round"/>
<path d="M451,441 L451,459.6" stroke="#4cbcea" stroke-width="0.77" fill="none" stroke-linecap="round" stroke-linejoin="round"/>
<path d="M428.5,397.6 Q422,398.5 420.8,402 Q419.4,408 423.6,417.3 L427.3,421.1" stroke="#1f9dd6" stroke-width="2.4" fill="none" stroke-linecap="round" stroke-linejoin="round"/>
<polygon points="423.4,417 431,418.6 431.7,429.8 427.3,431.2 422.3,426.1" fill="#1f9dd6" stroke="#1478a8" stroke-width="0.6" stroke-linejoin="round"/>
<path d="M426,422 L428.5,436" stroke="#1f9dd6" stroke-width="3" fill="none" stroke-linecap="round" stroke-linejoin="round"/>
<path d="M429.5,397.6 L449.5,399.2" stroke="#50207e" stroke-width="5" fill="none" stroke-linecap="round" stroke-linejoin="round"/>
<path d="M429.5,397.6 L449.5,399.2" stroke="#6a2a9e" stroke-width="3.1" fill="none" stroke-linecap="round" stroke-linejoin="round"/>
<path d="M429.5,397.6 L449.5,399.2" stroke="#7e44b4" stroke-width="1.1" fill="none" stroke-linecap="round" stroke-linejoin="round"/>
<ellipse cx="451" cy="399.4" rx="1.3" ry="2.3" fill="#b89a50" stroke="none" stroke-width="0"/>
<polygon points="431,432.9 446,430.4 462.2,434.8 447.2,438.7" fill="#f6d62a" stroke="#d4a818" stroke-width="0.7" stroke-linejoin="round"/>
<path d="M539,416 L532.7,433.7" stroke="#1f9dd6" stroke-width="2.8" fill="none" stroke-linecap="round" stroke-linejoin="round"/>
<path d="M545.4,416.6 L558.1,428" stroke="#1f9dd6" stroke-width="2.4" fill="none" stroke-linecap="round" stroke-linejoin="round"/>
<path d="M546,417 L538,434" stroke="#1a5f86" stroke-width="1.4" fill="none" stroke-linecap="round" stroke-linejoin="round"/>
<path d="M541,417 L552,432" stroke="#1a5f86" stroke-width="1.4" fill="none" stroke-linecap="round" stroke-linejoin="round"/>
<path d="M550.5,414.4 L565.7,414.4" stroke="#1f9dd6" stroke-width="3" fill="none" stroke-linecap="round" stroke-linejoin="round"/>
<path d="M561.3,415.3 L561.3,434.4" stroke="#1f9dd6" stroke-width="2.4" fill="none" stroke-linecap="round" stroke-linejoin="round"/>
<path d="M541.6,434 Q550,433 558,428" stroke="#1f9dd6" stroke-width="2.2" fill="none" stroke-linecap="round" stroke-linejoin="round"/>
<path d="M534.6,411.2 L548,413.8" stroke="#1478a8" stroke-width="5.2" fill="none" stroke-linecap="round" stroke-linejoin="round"/>
<path d="M534.6,411.2 L548,413.8" stroke="#1f9dd6" stroke-width="3.224" fill="none" stroke-linecap="round" stroke-linejoin="round"/>
<path d="M534.6,411.2 L548,413.8" stroke="#4cbcea" stroke-width="1.1440000000000001" fill="none" stroke-linecap="round" stroke-linejoin="round"/>
<circle cx="548.9" cy="413.9" r="2.8" fill="#e5352b"/>
<path d="M528.2,434.2 L539.8,439.4" stroke="#1478a8" stroke-width="5.3" fill="none" stroke-linecap="round" stroke-linejoin="round"/>
<path d="M528.2,434.2 L539.8,439.4" stroke="#1f9dd6" stroke-width="3.286" fill="none" stroke-linecap="round" stroke-linejoin="round"/>
<path d="M528.2,434.2 L539.8,439.4" stroke="#4cbcea" stroke-width="1.166" fill="none" stroke-linecap="round" stroke-linejoin="round"/>
<circle cx="540.6" cy="439.8" r="2.9" fill="#e5352b"/>
<rect x="572.2" y="339.9" width="15.599999999999909" height="72.20000000000005" fill="#40359f" rx="0"/>
<line x1="574.2" y1="375.3" x2="585.8" y2="375.3" stroke="#9c98e0" stroke-width="0.7" stroke-dasharray="2.2 0.9" opacity="0.75"/>
<line x1="574.2" y1="377.9" x2="585.8" y2="377.9" stroke="#9c98e0" stroke-width="0.7" stroke-dasharray="2.2 0.9" opacity="0.75"/>
<line x1="574.2" y1="380.5" x2="585.8" y2="380.5" stroke="#9c98e0" stroke-width="0.7" stroke-dasharray="2.2 0.9" opacity="0.75"/>
<line x1="574.2" y1="383.1" x2="585.8" y2="383.1" stroke="#9c98e0" stroke-width="0.7" stroke-dasharray="2.2 0.9" opacity="0.75"/>
<line x1="574.2" y1="385.7" x2="585.8" y2="385.7" stroke="#9c98e0" stroke-width="0.7" stroke-dasharray="2.2 0.9" opacity="0.75"/>
<line x1="574.2" y1="388.3" x2="585.8" y2="388.3" stroke="#9c98e0" stroke-width="0.7" stroke-dasharray="2.2 0.9" opacity="0.75"/>
<line x1="574.2" y1="390.9" x2="585.8" y2="390.9" stroke="#9c98e0" stroke-width="0.7" stroke-dasharray="2.2 0.9" opacity="0.75"/>
<line x1="574.2" y1="393.5" x2="585.8" y2="393.5" stroke="#9c98e0" stroke-width="0.7" stroke-dasharray="2.2 0.9" opacity="0.75"/>
<line x1="574.2" y1="396.1" x2="585.8" y2="396.1" stroke="#9c98e0" stroke-width="0.7" stroke-dasharray="2.2 0.9" opacity="0.75"/>
<line x1="574.2" y1="398.7" x2="585.8" y2="398.7" stroke="#9c98e0" stroke-width="0.7" stroke-dasharray="2.2 0.9" opacity="0.75"/>
<line x1="574.2" y1="401.3" x2="585.8" y2="401.3" stroke="#9c98e0" stroke-width="0.7" stroke-dasharray="2.2 0.9" opacity="0.75"/>
<line x1="574.2" y1="403.9" x2="585.8" y2="403.9" stroke="#9c98e0" stroke-width="0.7" stroke-dasharray="2.2 0.9" opacity="0.75"/>
<line x1="574.2" y1="406.5" x2="585.8" y2="406.5" stroke="#9c98e0" stroke-width="0.7" stroke-dasharray="2.2 0.9" opacity="0.75"/>
<line x1="574.2" y1="409.1" x2="585.8" y2="409.1" stroke="#9c98e0" stroke-width="0.7" stroke-dasharray="2.2 0.9" opacity="0.75"/>
<path d="M572.7,335.1 Q574.2,332.9 578.5,332.5 L580.0,331.1 L581.5,332.5 Q585.8,332.9 587.3,335.1" stroke="#6a2a9e" stroke-width="1.1" fill="none"/>
<rect x="587.3" y="325" width="5.7000000000000455" height="120.80000000000001" fill="#6a2a9e" rx="0"/>
<rect x="590.435" y="325" width="1.7100000000000135" height="120.80000000000001" fill="#7e44b4" rx="0"/>
<rect x="566.3" y="320" width="6.400000000000091" height="129.60000000000002" fill="#6a2a9e" rx="0"/>
<rect x="567.5799999999999" y="320" width="1.9200000000000272" height="129.60000000000002" fill="#7e44b4" rx="0"/>
<rect x="573.2" y="345" width="13.799999999999955" height="27.30000000000001" fill="#e6e2f2" rx="0"/>
<path d="M578.6,361.65 L579.1,356.65 M581.6,361.65 L581.1,355.65" stroke="#e5352b" stroke-width="1.2" fill="none"/>
<rect x="574.2" y="346" width="11.799999999999955" height="6.006000000000003" fill="#b9a8d8" rx="0"/>
<polygon points="565.3,317.5 594,317.5 594,327.4 565.3,327.4" fill="#8b8b8d" stroke="none" stroke-width="0" stroke-linejoin="round"/>
<line x1="565.3" y1="318.1" x2="594" y2="318.1" stroke="#b5b5b8" stroke-width="1.2"/>
<rect x="576.65" y="321.65" width="6" height="1.6" fill="#4c4c50" rx="0"/>
<path d="M563.6999999999999,453.14 Q563.6999999999999,448.5 568.9,448.5 Q574.1,448.5 574.1,453.14 Q568.9,455.46 563.6999999999999,453.14Z" fill="#5f6a66"/>
<ellipse cx="568.9" cy="449.95" rx="3.12" ry="1.305" fill="#9aa5a0"/>
<path d="M585.0,448.76 Q585.0,444.59999999999997 589.6,444.59999999999997 Q594.2,444.59999999999997 594.2,448.76 Q589.6,450.84 585.0,448.76Z" fill="#5f6a66"/>
<ellipse cx="589.6" cy="445.9" rx="2.76" ry="1.1700000000000002" fill="#9aa5a0"/>
<path d="M620.3,417.2 Q624,424 622.8,433.1" stroke="#1f9dd6" stroke-width="2.8" fill="none" stroke-linecap="round" stroke-linejoin="round"/>
<path d="M609,416 L621.5,433" stroke="#1f9dd6" stroke-width="2.4" fill="none" stroke-linecap="round" stroke-linejoin="round"/>
<path d="M612,417 L618,431" stroke="#1a5f86" stroke-width="1.4" fill="none" stroke-linecap="round" stroke-linejoin="round"/>
<path d="M619,418 L610,430" stroke="#1a5f86" stroke-width="1.4" fill="none" stroke-linecap="round" stroke-linejoin="round"/>
<path d="M601.2,419.1 L601.9,449.6" stroke="#1f9dd6" stroke-width="2.6" fill="none" stroke-linecap="round" stroke-linejoin="round"/>
<path d="M603,430 Q612,435 622,434" stroke="#1f9dd6" stroke-width="2.2" fill="none" stroke-linecap="round" stroke-linejoin="round"/>
<path d="M607.5,411.2 L629,414" stroke="#1478a8" stroke-width="5.3" fill="none" stroke-linecap="round" stroke-linejoin="round"/>
<path d="M607.5,411.2 L629,414" stroke="#1f9dd6" stroke-width="3.286" fill="none" stroke-linecap="round" stroke-linejoin="round"/>
<path d="M607.5,411.2 L629,414" stroke="#4cbcea" stroke-width="1.166" fill="none" stroke-linecap="round" stroke-linejoin="round"/>
<circle cx="629.9" cy="414.1" r="2.9" fill="#e5352b"/>
<path d="M622.6,435.2 L634.2,437.8" stroke="#1478a8" stroke-width="5" fill="none" stroke-linecap="round" stroke-linejoin="round"/>
<path d="M622.6,435.2 L634.2,437.8" stroke="#1f9dd6" stroke-width="3.1" fill="none" stroke-linecap="round" stroke-linejoin="round"/>
<path d="M622.6,435.2 L634.2,437.8" stroke="#4cbcea" stroke-width="1.1" fill="none" stroke-linecap="round" stroke-linejoin="round"/>
<circle cx="635" cy="438" r="2.8" fill="#e5352b"/>
<path d="M556.8,430.5 Q566,423.5 577.1,419.1 Q587,415.8 596.2,415.3 L619,416" stroke="#1f9dd6" stroke-width="2.8" fill="none" stroke-linecap="round" stroke-linejoin="round"/>
<path d="M568.2,444.5 Q575,440 580.9,434.4 Q590,429 601.2,425.5 L616.5,419.1" stroke="#1f9dd6" stroke-width="2.8" fill="none" stroke-linecap="round" stroke-linejoin="round"/>
<line x1="560.5" y1="428" x2="572.5" y2="441.5" stroke="#1f9dd6" stroke-width="2.2" stroke-linecap="round"/>
<line x1="566.5" y1="424.5" x2="579" y2="436" stroke="#1f9dd6" stroke-width="2.2" stroke-linecap="round"/>
<line x1="573.5" y1="421" x2="587" y2="431" stroke="#1f9dd6" stroke-width="2.2" stroke-linecap="round"/>
<line x1="581.5" y1="418" x2="595.5" y2="427.5" stroke="#1f9dd6" stroke-width="2.2" stroke-linecap="round"/>
<line x1="590.5" y1="416" x2="604.5" y2="424.5" stroke="#1f9dd6" stroke-width="2.2" stroke-linecap="round"/>
<line x1="600" y1="415.4" x2="612" y2="421" stroke="#1f9dd6" stroke-width="2.2" stroke-linecap="round"/>
<path d="M556.8,430.5 Q549,437 547.3,443.2 Q546.5,448.5 552,448.4 Q560,448 568.2,444.5" stroke="#1f9dd6" stroke-width="2.4" fill="none" stroke-linecap="round" stroke-linejoin="round"/>
<path d="M592.2,437.4 L603.6,440.8" stroke="#1478a8" stroke-width="5" fill="none" stroke-linecap="round" stroke-linejoin="round"/>
<path d="M592.2,437.4 L603.6,440.8" stroke="#1f9dd6" stroke-width="3.1" fill="none" stroke-linecap="round" stroke-linejoin="round"/>
<path d="M592.2,437.4 L603.6,440.8" stroke="#4cbcea" stroke-width="1.1" fill="none" stroke-linecap="round" stroke-linejoin="round"/>
<circle cx="604.5" cy="441.1" r="2.9" fill="#e5352b"/>
<polygon points="736.1,317.4 748.6,315 762.3,324.9 762.3,334.9 744.8,336.1 737.4,329.9" fill="#1f9dd6" stroke="#1478a8" stroke-width="0.6" stroke-linejoin="round"/>
<circle cx="741" cy="320" r="0.8" fill="#0f5e88"/>
<circle cx="741" cy="326" r="0.8" fill="#0f5e88"/>
<circle cx="747" cy="322" r="0.8" fill="#0f5e88"/>
<circle cx="750" cy="329" r="0.8" fill="#0f5e88"/>
<circle cx="756" cy="327" r="0.8" fill="#0f5e88"/>
<path d="M740,335 Q730,338 729.5,347 Q727,365 725,380" stroke="#1f9dd6" stroke-width="2.5" fill="none" stroke-linecap="round" stroke-linejoin="round"/>
<line x1="724.9" y1="379" x2="724.4" y2="385" stroke="#3a2a22" stroke-width="1.8" stroke-linecap="butt"/>
<path d="M743.6,336 Q744,360 741.2,380" stroke="#1f9dd6" stroke-width="2.5" fill="none" stroke-linecap="round" stroke-linejoin="round"/>
<line x1="741.2" y1="379.5" x2="740.8" y2="386" stroke="#3a2a22" stroke-width="1.8" stroke-linecap="butt"/>
<polygon points="739.3,385 748.4,384 748.8,399.5 739.6,400" fill="#f4d838" stroke="#d9b520" stroke-width="0.5" stroke-linejoin="round"/>
<path d="M754.8,336 Q754,370 750,400 Q747,412 742.5,418" stroke="#1f9dd6" stroke-width="2.8" fill="none" stroke-linecap="round" stroke-linejoin="round"/>
<path d="M751,338 Q750,370 747,395" stroke="#1f9dd6" stroke-width="1.8" fill="none" stroke-linecap="round" stroke-linejoin="round"/>
<polygon points="713.7,413.4 732.4,411.6 736.1,415.1 717.4,417.3" fill="#f4d838" stroke="#d9b520" stroke-width="0.6" stroke-linejoin="round"/>
<path d="M732.4,417 L732.4,442" stroke="#1478a8" stroke-width="3.4" fill="none" stroke-linecap="round" stroke-linejoin="round"/>
<path d="M732.4,417 L732.4,442" stroke="#1f9dd6" stroke-width="2.108" fill="none" stroke-linecap="round" stroke-linejoin="round"/>
<path d="M732.4,417 L732.4,442" stroke="#4cbcea" stroke-width="0.748" fill="none" stroke-linecap="round" stroke-linejoin="round"/>
<path d="M732.4,422.2 L761,419.8" stroke="#1478a8" stroke-width="2.8" fill="none" stroke-linecap="round" stroke-linejoin="round"/>
<path d="M732.4,422.2 L761,419.8" stroke="#1f9dd6" stroke-width="1.736" fill="none" stroke-linecap="round" stroke-linejoin="round"/>
<path d="M732.4,422.2 L761,419.8" stroke="#4cbcea" stroke-width="0.616" fill="none" stroke-linecap="round" stroke-linejoin="round"/>
<path d="M732.4,429.6 L761,427.2" stroke="#1478a8" stroke-width="2.8" fill="none" stroke-linecap="round" stroke-linejoin="round"/>
<path d="M732.4,429.6 L761,427.2" stroke="#1f9dd6" stroke-width="1.736" fill="none" stroke-linecap="round" stroke-linejoin="round"/>
<path d="M732.4,429.6 L761,427.2" stroke="#4cbcea" stroke-width="0.616" fill="none" stroke-linecap="round" stroke-linejoin="round"/>
<circle cx="740" cy="421.6" r="0.8" fill="#0f5e88"/>
<circle cx="740" cy="429" r="0.8" fill="#0f5e88"/>
<circle cx="752" cy="420.6" r="0.8" fill="#0f5e88"/>
<circle cx="752" cy="428" r="0.8" fill="#0f5e88"/>
<polygon points="777.2,324.9 790.9,321.2 794.6,327.4 793.4,337.4 777.2,339.9" fill="#1f9dd6" stroke="#1478a8" stroke-width="0.6" stroke-linejoin="round"/>
<circle cx="783" cy="326" r="0.8" fill="#0f5e88"/>
<circle cx="788" cy="324.5" r="0.8" fill="#0f5e88"/>
<circle cx="790" cy="331" r="0.8" fill="#0f5e88"/>
<circle cx="784" cy="334" r="0.8" fill="#0f5e88"/>
<path d="M789,338 Q797,335 804,337.5 Q809,341 809.6,350 L810.8,377" stroke="#1f9dd6" stroke-width="2.5" fill="none" stroke-linecap="round" stroke-linejoin="round"/>
<line x1="810.8" y1="376.5" x2="810.9" y2="383" stroke="#3a2a22" stroke-width="1.8" stroke-linecap="butt"/>
<path d="M787,339 Q782,355 783.2,374 Q784,392 791,407" stroke="#1f9dd6" stroke-width="2.8" fill="none" stroke-linecap="round" stroke-linejoin="round"/>
<path d="M791,339 Q787,355 788,372" stroke="#1f9dd6" stroke-width="1.8" fill="none" stroke-linecap="round" stroke-linejoin="round"/>
<polygon points="787.3,382.6 796,382.4 796,394.8 787.6,395" fill="#f4d838" stroke="#d9b520" stroke-width="0.5" stroke-linejoin="round"/>
<line x1="790" y1="386" x2="795" y2="386" stroke="#8a7a20" stroke-width="0.8" stroke-linecap="butt"/>
<line x1="790" y1="389" x2="795" y2="389" stroke="#8a7a20" stroke-width="0.8" stroke-linecap="butt"/>
<line x1="790" y1="392" x2="795" y2="392" stroke="#8a7a20" stroke-width="0.8" stroke-linecap="butt"/>
<polygon points="794.6,405.9 810.8,404.6 812.1,407.6 797.1,409.3" fill="#f4d838" stroke="#d9b520" stroke-width="0.6" stroke-linejoin="round"/>
<path d="M799.6,409.6 L799.6,429.5" stroke="#1478a8" stroke-width="3" fill="none" stroke-linecap="round" stroke-linejoin="round"/>
<path d="M799.6,409.6 L799.6,429.5" stroke="#1f9dd6" stroke-width="1.8599999999999999" fill="none" stroke-linecap="round" stroke-linejoin="round"/>
<path d="M799.6,409.6 L799.6,429.5" stroke="#4cbcea" stroke-width="0.66" fill="none" stroke-linecap="round" stroke-linejoin="round"/>
<path d="M777.5,420 L799.6,417.4" stroke="#1478a8" stroke-width="2.6" fill="none" stroke-linecap="round" stroke-linejoin="round"/>
<path d="M777.5,420 L799.6,417.4" stroke="#1f9dd6" stroke-width="1.612" fill="none" stroke-linecap="round" stroke-linejoin="round"/>
<path d="M777.5,420 L799.6,417.4" stroke="#4cbcea" stroke-width="0.5720000000000001" fill="none" stroke-linecap="round" stroke-linejoin="round"/>
<path d="M777.5,427.4 L799.6,425" stroke="#1478a8" stroke-width="2.6" fill="none" stroke-linecap="round" stroke-linejoin="round"/>
<path d="M777.5,427.4 L799.6,425" stroke="#1f9dd6" stroke-width="1.612" fill="none" stroke-linecap="round" stroke-linejoin="round"/>
<path d="M777.5,427.4 L799.6,425" stroke="#4cbcea" stroke-width="0.5720000000000001" fill="none" stroke-linecap="round" stroke-linejoin="round"/>
<rect x="763.4" y="337.4" width="8.100000000000023" height="69.70000000000005" fill="#40359f" rx="0"/>
<line x1="765.4" y1="365.0" x2="769.5" y2="365.0" stroke="#9c98e0" stroke-width="0.7" stroke-dasharray="2.2 0.9" opacity="0.75"/>
<line x1="765.4" y1="367.6" x2="769.5" y2="367.6" stroke="#9c98e0" stroke-width="0.7" stroke-dasharray="2.2 0.9" opacity="0.75"/>
<line x1="765.4" y1="370.2" x2="769.5" y2="370.2" stroke="#9c98e0" stroke-width="0.7" stroke-dasharray="2.2 0.9" opacity="0.75"/>
<line x1="765.4" y1="372.8" x2="769.5" y2="372.8" stroke="#9c98e0" stroke-width="0.7" stroke-dasharray="2.2 0.9" opacity="0.75"/>
<line x1="765.4" y1="375.4" x2="769.5" y2="375.4" stroke="#9c98e0" stroke-width="0.7" stroke-dasharray="2.2 0.9" opacity="0.75"/>
<line x1="765.4" y1="378.0" x2="769.5" y2="378.0" stroke="#9c98e0" stroke-width="0.7" stroke-dasharray="2.2 0.9" opacity="0.75"/>
<line x1="765.4" y1="380.6" x2="769.5" y2="380.6" stroke="#9c98e0" stroke-width="0.7" stroke-dasharray="2.2 0.9" opacity="0.75"/>
<line x1="765.4" y1="383.2" x2="769.5" y2="383.2" stroke="#9c98e0" stroke-width="0.7" stroke-dasharray="2.2 0.9" opacity="0.75"/>
<line x1="765.4" y1="385.8" x2="769.5" y2="385.8" stroke="#9c98e0" stroke-width="0.7" stroke-dasharray="2.2 0.9" opacity="0.75"/>
<line x1="765.4" y1="388.4" x2="769.5" y2="388.4" stroke="#9c98e0" stroke-width="0.7" stroke-dasharray="2.2 0.9" opacity="0.75"/>
<line x1="765.4" y1="391.0" x2="769.5" y2="391.0" stroke="#9c98e0" stroke-width="0.7" stroke-dasharray="2.2 0.9" opacity="0.75"/>
<line x1="765.4" y1="393.6" x2="769.5" y2="393.6" stroke="#9c98e0" stroke-width="0.7" stroke-dasharray="2.2 0.9" opacity="0.75"/>
<line x1="765.4" y1="396.2" x2="769.5" y2="396.2" stroke="#9c98e0" stroke-width="0.7" stroke-dasharray="2.2 0.9" opacity="0.75"/>
<line x1="765.4" y1="398.8" x2="769.5" y2="398.8" stroke="#9c98e0" stroke-width="0.7" stroke-dasharray="2.2 0.9" opacity="0.75"/>
<line x1="765.4" y1="401.4" x2="769.5" y2="401.4" stroke="#9c98e0" stroke-width="0.7" stroke-dasharray="2.2 0.9" opacity="0.75"/>
<line x1="765.4" y1="404.0" x2="769.5" y2="404.0" stroke="#9c98e0" stroke-width="0.7" stroke-dasharray="2.2 0.9" opacity="0.75"/>
<rect x="771" y="312" width="6.2000000000000455" height="123.80000000000001" fill="#6a2a9e" rx="0"/>
<rect x="774.4100000000001" y="312" width="1.8600000000000136" height="123.80000000000001" fill="#7e44b4" rx="0"/>
<rect x="760.3" y="318" width="3.6000000000000227" height="111.5" fill="#6a2a9e" rx="0"/>
<rect x="761.02" y="318" width="1.0800000000000067" height="111.5" fill="#7e44b4" rx="0"/>
<rect x="764.3" y="340" width="6.300000000000068" height="22" fill="#ece8f2" rx="0"/>
<path d="M765.95,354.0 L766.45,349.0 M768.95,354.0 L768.45,348.0" stroke="#e5352b" stroke-width="1.2" fill="none"/>
<rect x="765.3" y="341" width="4.300000000000068" height="4.84" fill="#b9a8d8" rx="0"/>
<polygon points="759.3,316.2 777.2,309 777.2,313.5 759.3,320.5" fill="#8b8b8d" stroke="none" stroke-width="0" stroke-linejoin="round"/>
<line x1="759.3" y1="316.8" x2="777.2" y2="309.6" stroke="#b5b5b8" stroke-width="1.2"/>
<rect x="765.25" y="314.0" width="6" height="1.6" fill="#4c4c50" rx="0"/>
<path d="M758.8000000000001,431.74 Q758.8000000000001,428.70000000000005 762.2,428.70000000000005 Q765.6,428.70000000000005 765.6,431.74 Q762.2,433.26000000000005 758.8000000000001,431.74Z" fill="#5f6a66"/>
<ellipse cx="762.2" cy="429.65000000000003" rx="2.04" ry="0.855" fill="#9aa5a0"/>
<path d="M770.2,438.24 Q770.2,434.40000000000003 774.6,434.40000000000003 Q779.0,434.40000000000003 779.0,438.24 Q774.6,440.16 770.2,438.24Z" fill="#5f6a66"/>
<ellipse cx="774.6" cy="435.6" rx="2.64" ry="1.08" fill="#9aa5a0"/>
<ellipse cx="767.5" cy="419.5" rx="2.4" ry="3" fill="#555c58" stroke="none" stroke-width="0"/>
<line x1="857.7" y1="380.8" x2="905" y2="381.8" stroke="#245f86" stroke-width="2.3" stroke-linecap="round"/>
<line x1="860" y1="380.3" x2="900" y2="381.1" stroke="#5fb0d8" stroke-width="0.9" stroke-linecap="round"/>
<line x1="857.7" y1="380.8" x2="862" y2="380.9" stroke="#1c2a44" stroke-width="2.4" stroke-linecap="round"/>
<line x1="878.8" y1="385" x2="900" y2="383.6" stroke="#245f86" stroke-width="2.1" stroke-linecap="round"/>
<line x1="924.5" y1="380.6" x2="962.3" y2="380.8" stroke="#245f86" stroke-width="2.3" stroke-linecap="round"/>
<line x1="928" y1="380.1" x2="957" y2="380.3" stroke="#5fb0d8" stroke-width="0.9" stroke-linecap="round"/>
<line x1="958" y1="380.8" x2="962.5" y2="380.8" stroke="#1c2a44" stroke-width="2.4" stroke-linecap="round"/>
<line x1="925" y1="383.2" x2="945" y2="382.2" stroke="#245f86" stroke-width="1.9" stroke-linecap="round"/>
<path d="M922.2,350 L922.2,442.7" stroke="#125a75" stroke-width="4.8" fill="none" stroke-linecap="round" stroke-linejoin="round"/>
<path d="M922.2,350 L922.2,442.7" stroke="#1c7fa3" stroke-width="2.976" fill="none" stroke-linecap="round" stroke-linejoin="round"/>
<path d="M922.2,350 L922.2,442.7" stroke="#3fa3c6" stroke-width="1.056" fill="none" stroke-linecap="round" stroke-linejoin="round"/>
<rect x="904.7" y="352.3" width="7.2999999999999545" height="62.30000000000001" fill="#40359f" rx="0"/>
<line x1="906.7" y1="379.9" x2="910.0" y2="379.9" stroke="#9c98e0" stroke-width="0.7" stroke-dasharray="2.2 0.9" opacity="0.75"/>
<line x1="906.7" y1="382.5" x2="910.0" y2="382.5" stroke="#9c98e0" stroke-width="0.7" stroke-dasharray="2.2 0.9" opacity="0.75"/>
<line x1="906.7" y1="385.1" x2="910.0" y2="385.1" stroke="#9c98e0" stroke-width="0.7" stroke-dasharray="2.2 0.9" opacity="0.75"/>
<line x1="906.7" y1="387.7" x2="910.0" y2="387.7" stroke="#9c98e0" stroke-width="0.7" stroke-dasharray="2.2 0.9" opacity="0.75"/>
<line x1="906.7" y1="390.3" x2="910.0" y2="390.3" stroke="#9c98e0" stroke-width="0.7" stroke-dasharray="2.2 0.9" opacity="0.75"/>
<line x1="906.7" y1="392.9" x2="910.0" y2="392.9" stroke="#9c98e0" stroke-width="0.7" stroke-dasharray="2.2 0.9" opacity="0.75"/>
<line x1="906.7" y1="395.5" x2="910.0" y2="395.5" stroke="#9c98e0" stroke-width="0.7" stroke-dasharray="2.2 0.9" opacity="0.75"/>
<line x1="906.7" y1="398.1" x2="910.0" y2="398.1" stroke="#9c98e0" stroke-width="0.7" stroke-dasharray="2.2 0.9" opacity="0.75"/>
<line x1="906.7" y1="400.7" x2="910.0" y2="400.7" stroke="#9c98e0" stroke-width="0.7" stroke-dasharray="2.2 0.9" opacity="0.75"/>
<line x1="906.7" y1="403.3" x2="910.0" y2="403.3" stroke="#9c98e0" stroke-width="0.7" stroke-dasharray="2.2 0.9" opacity="0.75"/>
<line x1="906.7" y1="405.9" x2="910.0" y2="405.9" stroke="#9c98e0" stroke-width="0.7" stroke-dasharray="2.2 0.9" opacity="0.75"/>
<line x1="906.7" y1="408.5" x2="910.0" y2="408.5" stroke="#9c98e0" stroke-width="0.7" stroke-dasharray="2.2 0.9" opacity="0.75"/>
<line x1="906.7" y1="411.1" x2="910.0" y2="411.1" stroke="#9c98e0" stroke-width="0.7" stroke-dasharray="2.2 0.9" opacity="0.75"/>
<rect x="911.5" y="328" width="6.899999999999977" height="119" fill="#6a2a9e" rx="0"/>
<rect x="915.295" y="328" width="2.069999999999993" height="119" fill="#7e44b4" rx="0"/>
<rect x="900.7" y="328" width="4.5" height="111.5" fill="#6a2a9e" rx="0"/>
<rect x="901.6" y="328" width="1.3499999999999999" height="111.5" fill="#7e44b4" rx="0"/>
<rect x="904" y="353.7" width="8.600000000000023" height="23.19999999999999" fill="#ecebf4" rx="0"/>
<path d="M906.8,368.29999999999995 L907.3,363.29999999999995 M909.8,368.29999999999995 L909.3,362.29999999999995" stroke="#e5352b" stroke-width="1.2" fill="none"/>
<rect x="905" y="354.7" width="6.600000000000023" height="5.103999999999997" fill="#b9a8d8" rx="0"/>
<polygon points="900,326.6 917.7,323.8 917.7,332.6 900,334" fill="#8b8b8d" stroke="none" stroke-width="0" stroke-linejoin="round"/>
<line x1="900" y1="327.20000000000005" x2="917.7" y2="324.40000000000003" stroke="#b5b5b8" stroke-width="1.2"/>
<rect x="905.85" y="328.45" width="6" height="1.6" fill="#4c4c50" rx="0"/>
<path d="M898.9,442.92 Q898.9,439.40000000000003 902.9,439.40000000000003 Q906.9,439.40000000000003 906.9,442.92 Q902.9,444.68 898.9,442.92Z" fill="#5f6a66"/>
<ellipse cx="902.9" cy="440.5" rx="2.4" ry="0.9900000000000001" fill="#9aa5a0"/>
<path d="M909.8000000000001,450.76 Q909.8000000000001,446.59999999999997 914.6,446.59999999999997 Q919.4,446.59999999999997 919.4,450.76 Q914.6,452.84 909.8000000000001,450.76Z" fill="#5f6a66"/>
<ellipse cx="914.6" cy="447.9" rx="2.88" ry="1.1700000000000002" fill="#9aa5a0"/>
<path d="M896.3,449 L896.3,352 Q896.3,343.6 904,343 L916,343.8 Q922.2,344.6 922.2,352" stroke="#125a75" stroke-width="4.8" fill="none" stroke-linecap="round" stroke-linejoin="round"/>
<path d="M896.3,449 L896.3,352 Q896.3,343.6 904,343 L916,343.8 Q922.2,344.6 922.2,352" stroke="#1c7fa3" stroke-width="2.976" fill="none" stroke-linecap="round" stroke-linejoin="round"/>
<path d="M896.3,449 L896.3,352 Q896.3,343.6 904,343 L916,343.8 Q922.2,344.6 922.2,352" stroke="#3fa3c6" stroke-width="1.056" fill="none" stroke-linecap="round" stroke-linejoin="round"/>
<path d="M898,432.3 L909,432.3" stroke="#125a75" stroke-width="5" fill="none" stroke-linecap="round" stroke-linejoin="round"/>
<path d="M898,432.3 L909,432.3" stroke="#1c7fa3" stroke-width="3.1" fill="none" stroke-linecap="round" stroke-linejoin="round"/>
<path d="M898,432.3 L909,432.3" stroke="#3fa3c6" stroke-width="1.1" fill="none" stroke-linecap="round" stroke-linejoin="round"/>
<path d="M889.7,388 L883,440" stroke="#d99a10" stroke-width="4.2" fill="none" stroke-linecap="round" stroke-linejoin="round"/>
<path d="M889.7,388 L883,440" stroke="#f3bd1d" stroke-width="2.604" fill="none" stroke-linecap="round" stroke-linejoin="round"/>
<path d="M889.7,388 L883,440" stroke="#ffd94a" stroke-width="0.924" fill="none" stroke-linecap="round" stroke-linejoin="round"/>
<polygon points="865.5,442 882.4,439.3 888.2,445.5 881.1,450.5 869.9,448.4" fill="#f3bd1d" stroke="#d99a10" stroke-width="0.7" stroke-linejoin="round"/>
<polygon points="867.6,446 881,448.8 881.1,451 869.9,449.2" fill="#d99a10" stroke="none" stroke-width="0" stroke-linejoin="round"/>
<path d="M928.4,385.5 L931.3,433" stroke="#d99a10" stroke-width="3.8" fill="none" stroke-linecap="round" stroke-linejoin="round"/>
<path d="M928.4,385.5 L931.3,433" stroke="#f3bd1d" stroke-width="2.356" fill="none" stroke-linecap="round" stroke-linejoin="round"/>
<path d="M928.4,385.5 L931.3,433" stroke="#ffd94a" stroke-width="0.836" fill="none" stroke-linecap="round" stroke-linejoin="round"/>
<polygon points="927.6,434.2 942.2,431.6 944.8,437 932.2,441" fill="#f3bd1d" stroke="#d99a10" stroke-width="0.7" stroke-linejoin="round"/>
<line x1="886.5" y1="386.6" x2="893.5" y2="387.4" stroke="#125a75" stroke-width="2.2" stroke-linecap="round"/>
<line x1="59.5" y1="529.5" x2="83" y2="529.3" stroke="#4a9cc0" stroke-width="1.4" stroke-linecap="round"/>
<line x1="59.3" y1="529.4" x2="65.5" y2="529.4" stroke="#2a2a40" stroke-width="1.7" stroke-linecap="round"/>
<line x1="143.3" y1="526" x2="164.9" y2="526.7" stroke="#4a9cc0" stroke-width="1.4" stroke-linecap="round"/>
<line x1="160.5" y1="526.6" x2="165.2" y2="526.8" stroke="#2a2a40" stroke-width="1.7" stroke-linecap="round"/>
<rect x="107.7" y="541" width="8.799999999999997" height="61.700000000000045" fill="#40359f" rx="0"/>
<line x1="109.7" y1="569.6" x2="114.5" y2="569.6" stroke="#9c98e0" stroke-width="0.7" stroke-dasharray="2.2 0.9" opacity="0.75"/>
<line x1="109.7" y1="572.2" x2="114.5" y2="572.2" stroke="#9c98e0" stroke-width="0.7" stroke-dasharray="2.2 0.9" opacity="0.75"/>
<line x1="109.7" y1="574.8" x2="114.5" y2="574.8" stroke="#9c98e0" stroke-width="0.7" stroke-dasharray="2.2 0.9" opacity="0.75"/>
<line x1="109.7" y1="577.4" x2="114.5" y2="577.4" stroke="#9c98e0" stroke-width="0.7" stroke-dasharray="2.2 0.9" opacity="0.75"/>
<line x1="109.7" y1="580.0" x2="114.5" y2="580.0" stroke="#9c98e0" stroke-width="0.7" stroke-dasharray="2.2 0.9" opacity="0.75"/>
<line x1="109.7" y1="582.6" x2="114.5" y2="582.6" stroke="#9c98e0" stroke-width="0.7" stroke-dasharray="2.2 0.9" opacity="0.75"/>
<line x1="109.7" y1="585.2" x2="114.5" y2="585.2" stroke="#9c98e0" stroke-width="0.7" stroke-dasharray="2.2 0.9" opacity="0.75"/>
<line x1="109.7" y1="587.8" x2="114.5" y2="587.8" stroke="#9c98e0" stroke-width="0.7" stroke-dasharray="2.2 0.9" opacity="0.75"/>
<line x1="109.7" y1="590.4" x2="114.5" y2="590.4" stroke="#9c98e0" stroke-width="0.7" stroke-dasharray="2.2 0.9" opacity="0.75"/>
<line x1="109.7" y1="593.0" x2="114.5" y2="593.0" stroke="#9c98e0" stroke-width="0.7" stroke-dasharray="2.2 0.9" opacity="0.75"/>
<line x1="109.7" y1="595.6" x2="114.5" y2="595.6" stroke="#9c98e0" stroke-width="0.7" stroke-dasharray="2.2 0.9" opacity="0.75"/>
<line x1="109.7" y1="598.2" x2="114.5" y2="598.2" stroke="#9c98e0" stroke-width="0.7" stroke-dasharray="2.2 0.9" opacity="0.75"/>
<rect x="116" y="520" width="3.799999999999997" height="109" fill="#6a2a9e" rx="0"/>
<rect x="118.09" y="520" width="1.139999999999999" height="109" fill="#7e44b4" rx="0"/>
<rect x="103.3" y="514" width="4.900000000000006" height="117.60000000000002" fill="#6a2a9e" rx="0"/>
<rect x="104.28" y="514" width="1.4700000000000017" height="117.60000000000002" fill="#7e44b4" rx="0"/>
<rect x="108.4" y="543.8" width="8.0" height="22.800000000000068" fill="#ddd6e6" rx="0"/>
<path d="M110.9,558.2 L111.4,553.2 M113.9,558.2 L113.4,552.2" stroke="#e5352b" stroke-width="1.2" fill="none"/>
<rect x="109.4" y="544.8" width="6.0" height="5.016000000000015" fill="#b9a8d8" rx="0"/>
<polygon points="103.3,510.8 119.8,517.1 119.8,521.6 103.3,516.5" fill="#8b8b8d" stroke="none" stroke-width="0" stroke-linejoin="round"/>
<line x1="103.3" y1="511.40000000000003" x2="119.8" y2="517.7" stroke="#b5b5b8" stroke-width="1.2"/>
<rect x="108.55" y="515.7" width="6" height="1.6" fill="#4c4c50" rx="0"/>
<path d="M100.8,634.76 Q100.8,630.6 105.6,630.6 Q110.39999999999999,630.6 110.39999999999999,634.76 Q105.6,636.84 100.8,634.76Z" fill="#5f6a66"/>
<ellipse cx="105.6" cy="631.9000000000001" rx="2.88" ry="1.1700000000000002" fill="#9aa5a0"/>
<path d="M113.6,632.0400000000001 Q113.6,628.2 118,628.2 Q122.4,628.2 122.4,632.0400000000001 Q118,633.96 113.6,632.0400000000001Z" fill="#5f6a66"/>
<ellipse cx="118" cy="629.4" rx="2.64" ry="1.08" fill="#9aa5a0"/>
<line x1="108.2" y1="612" x2="116" y2="608" stroke="#6a2a9e" stroke-width="1.4" stroke-linecap="round"/>
<path d="M103.5,534.4 L95.5,534.2 Q91,532.6 83.2,528" stroke="#1b6f90" stroke-width="3" fill="none" stroke-linecap="round" stroke-linejoin="round"/>
<path d="M103.5,534.4 L95.5,534.2 Q91,532.6 83.2,528" stroke="#2a9cc6" stroke-width="1.8599999999999999" fill="none" stroke-linecap="round" stroke-linejoin="round"/>
<path d="M103.5,534.4 L95.5,534.2 Q91,532.6 83.2,528" stroke="#5cc4e2" stroke-width="0.66" fill="none" stroke-linecap="round" stroke-linejoin="round"/>
<path d="M114.8,533.6 Q121,533 126.2,531.7 Q131,529 136.3,524.8 L142.7,521.6" stroke="#1b6f90" stroke-width="3.9" fill="none" stroke-linecap="round" stroke-linejoin="round"/>
<path d="M114.8,533.6 Q121,533 126.2,531.7 Q131,529 136.3,524.8 L142.7,521.6" stroke="#2a9cc6" stroke-width="2.418" fill="none" stroke-linecap="round" stroke-linejoin="round"/>
<path d="M114.8,533.6 Q121,533 126.2,531.7 Q131,529 136.3,524.8 L142.7,521.6" stroke="#5cc4e2" stroke-width="0.858" fill="none" stroke-linecap="round" stroke-linejoin="round"/>
<ellipse cx="112.5" cy="533.6" rx="2.4" ry="3.9" fill="#8d8a5c" stroke="none" stroke-width="0"/>
<ellipse cx="112.1" cy="533.4" rx="1.3" ry="2.6" fill="#c8b860" stroke="none" stroke-width="0"/>
<path d="M143,521 L147,517.5 L149.5,519" stroke="#2a4a8a" stroke-width="1.6" fill="none" stroke-linecap="round" stroke-linejoin="round"/>
<circle cx="145.2" cy="521.8" r="1.3" fill="#e5352b"/>
<circle cx="83.4" cy="527" r="0.9" fill="#e89080"/>
<path d="M252,531.6 L258,532.6 Q260,540 255.4,546.5 Q253,550 246,551 L230.5,553.6 Q224,555 226,561 L247,620 Q248.4,623.4 252,623.4 L262.5,623.4" stroke="#1478a8" stroke-width="3.1" fill="none" stroke-linecap="round" stroke-linejoin="round"/>
<path d="M252,531.6 L258,532.6 Q260,540 255.4,546.5 Q253,550 246,551 L230.5,553.6 Q224,555 226,561 L247,620 Q248.4,623.4 252,623.4 L262.5,623.4" stroke="#1f9dd6" stroke-width="1.922" fill="none" stroke-linecap="round" stroke-linejoin="round"/>
<path d="M252,531.6 L258,532.6 Q260,540 255.4,546.5 Q253,550 246,551 L230.5,553.6 Q224,555 226,561 L247,620 Q248.4,623.4 252,623.4 L262.5,623.4" stroke="#4cbcea" stroke-width="0.682" fill="none" stroke-linecap="round" stroke-linejoin="round"/>
<path d="M262.3,554.8 L246.1,559.9 L262.7,604.5" stroke="#1f9dd6" stroke-width="2.5" fill="none" stroke-linecap="round" stroke-linejoin="round"/>
<path d="M252.5,531.6 L258.5,532.8" stroke="#1478a8" stroke-width="4.2" fill="none" stroke-linecap="round" stroke-linejoin="round"/>
<path d="M252.5,531.6 L258.5,532.8" stroke="#1f9dd6" stroke-width="2.604" fill="none" stroke-linecap="round" stroke-linejoin="round"/>
<path d="M252.5,531.6 L258.5,532.8" stroke="#4cbcea" stroke-width="0.924" fill="none" stroke-linecap="round" stroke-linejoin="round"/>
<circle cx="251.7" cy="531.5" r="2.1" fill="#e5352b"/>
<circle cx="252.2" cy="624.2" r="2" fill="#e5352b"/>
<path d="M253,624 L262,623.4" stroke="#1478a8" stroke-width="4.2" fill="none" stroke-linecap="round" stroke-linejoin="round"/>
<path d="M253,624 L262,623.4" stroke="#1f9dd6" stroke-width="2.604" fill="none" stroke-linecap="round" stroke-linejoin="round"/>
<path d="M253,624 L262,623.4" stroke="#4cbcea" stroke-width="0.924" fill="none" stroke-linecap="round" stroke-linejoin="round"/>
<rect x="266.5" y="538.3" width="12.199999999999989" height="82.80000000000007" fill="#40359f" rx="0"/>
<line x1="268.5" y1="570.2" x2="276.7" y2="570.2" stroke="#9c98e0" stroke-width="0.7" stroke-dasharray="2.2 0.9" opacity="0.75"/>
<line x1="268.5" y1="572.8" x2="276.7" y2="572.8" stroke="#9c98e0" stroke-width="0.7" stroke-dasharray="2.2 0.9" opacity="0.75"/>
<line x1="268.5" y1="575.4" x2="276.7" y2="575.4" stroke="#9c98e0" stroke-width="0.7" stroke-dasharray="2.2 0.9" opacity="0.75"/>
<line x1="268.5" y1="578.0" x2="276.7" y2="578.0" stroke="#9c98e0" stroke-width="0.7" stroke-dasharray="2.2 0.9" opacity="0.75"/>
<line x1="268.5" y1="580.6" x2="276.7" y2="580.6" stroke="#9c98e0" stroke-width="0.7" stroke-dasharray="2.2 0.9" opacity="0.75"/>
<line x1="268.5" y1="583.2" x2="276.7" y2="583.2" stroke="#9c98e0" stroke-width="0.7" stroke-dasharray="2.2 0.9" opacity="0.75"/>
<line x1="268.5" y1="585.8" x2="276.7" y2="585.8" stroke="#9c98e0" stroke-width="0.7" stroke-dasharray="2.2 0.9" opacity="0.75"/>
<line x1="268.5" y1="588.4" x2="276.7" y2="588.4" stroke="#9c98e0" stroke-width="0.7" stroke-dasharray="2.2 0.9" opacity="0.75"/>
<line x1="268.5" y1="591.0" x2="276.7" y2="591.0" stroke="#9c98e0" stroke-width="0.7" stroke-dasharray="2.2 0.9" opacity="0.75"/>
<line x1="268.5" y1="593.6" x2="276.7" y2="593.6" stroke="#9c98e0" stroke-width="0.7" stroke-dasharray="2.2 0.9" opacity="0.75"/>
<line x1="268.5" y1="596.2" x2="276.7" y2="596.2" stroke="#9c98e0" stroke-width="0.7" stroke-dasharray="2.2 0.9" opacity="0.75"/>
<line x1="268.5" y1="598.8" x2="276.7" y2="598.8" stroke="#9c98e0" stroke-width="0.7" stroke-dasharray="2.2 0.9" opacity="0.75"/>
<line x1="268.5" y1="601.4" x2="276.7" y2="601.4" stroke="#9c98e0" stroke-width="0.7" stroke-dasharray="2.2 0.9" opacity="0.75"/>
<line x1="268.5" y1="604.0" x2="276.7" y2="604.0" stroke="#9c98e0" stroke-width="0.7" stroke-dasharray="2.2 0.9" opacity="0.75"/>
<line x1="268.5" y1="606.6" x2="276.7" y2="606.6" stroke="#9c98e0" stroke-width="0.7" stroke-dasharray="2.2 0.9" opacity="0.75"/>
<line x1="268.5" y1="609.2" x2="276.7" y2="609.2" stroke="#9c98e0" stroke-width="0.7" stroke-dasharray="2.2 0.9" opacity="0.75"/>
<line x1="268.5" y1="611.8" x2="276.7" y2="611.8" stroke="#9c98e0" stroke-width="0.7" stroke-dasharray="2.2 0.9" opacity="0.75"/>
<line x1="268.5" y1="614.4" x2="276.7" y2="614.4" stroke="#9c98e0" stroke-width="0.7" stroke-dasharray="2.2 0.9" opacity="0.75"/>
<line x1="268.5" y1="617.0" x2="276.7" y2="617.0" stroke="#9c98e0" stroke-width="0.7" stroke-dasharray="2.2 0.9" opacity="0.75"/>
<rect x="278.2" y="522" width="5.199999999999989" height="117.5" fill="#6a2a9e" rx="0"/>
<rect x="281.06" y="522" width="1.5599999999999965" height="117.5" fill="#7e44b4" rx="0"/>
<rect x="262.3" y="516" width="4.699999999999989" height="126.10000000000002" fill="#6a2a9e" rx="0"/>
<rect x="263.24" y="516" width="1.4099999999999966" height="126.10000000000002" fill="#7e44b4" rx="0"/>
<rect x="267.9" y="540.2" width="10.300000000000011" height="27.0" fill="#8d86c4" rx="0"/>
<path d="M271.54999999999995,556.7 L272.04999999999995,551.7 M274.54999999999995,556.7 L274.04999999999995,550.7" stroke="#e5352b" stroke-width="1.2" fill="none"/>
<rect x="268.9" y="541.2" width="8.300000000000011" height="5.94" fill="#b9a8d8" rx="0"/>
<polygon points="262.3,512.9 283.4,517.9 283.4,523.2 262.3,518.2" fill="#8b8b8d" stroke="none" stroke-width="0" stroke-linejoin="round"/>
<line x1="262.3" y1="513.5" x2="283.4" y2="518.5" stroke="#b5b5b8" stroke-width="1.2"/>
<rect x="269.85" y="517.25" width="6" height="1.6" fill="#4c4c50" rx="0"/>
<path d="M260.6,645.0799999999999 Q260.6,640.6 265.6,640.6 Q270.6,640.6 270.6,645.0799999999999 Q265.6,647.3199999999999 260.6,645.0799999999999Z" fill="#5f6a66"/>
<ellipse cx="265.6" cy="642.0" rx="3.0" ry="1.26" fill="#9aa5a0"/>
<path d="M276.7,642.56 Q276.7,638.4 281.3,638.4 Q285.90000000000003,638.4 285.90000000000003,642.56 Q281.3,644.64 276.7,642.56Z" fill="#5f6a66"/>
<ellipse cx="281.3" cy="639.7" rx="2.76" ry="1.1700000000000002" fill="#9aa5a0"/>
<rect x="268.6" y="606.6" width="9.4" height="10.4" fill="#f4f2f8" rx="0"/>
<path d="M269.9,532 L269.9,552 Q270.2,560.6 279,561 L316.6,562 L294.8,618 L283,623" stroke="#1f9dd6" stroke-width="2.6" fill="none" stroke-linecap="round" stroke-linejoin="round"/>
<path d="M267.5,528 L292,534.6 Q295,535.6 294,540 L289.6,554 Q288.8,558.6 294,559.6 L314.5,560.6 L330,563.6 Q336.6,565.6 334.6,571 L315,617.5 Q313.6,620.8 309,621.3 L285,625.5" stroke="#1478a8" stroke-width="3.2" fill="none" stroke-linecap="round" stroke-linejoin="round"/>
<path d="M267.5,528 L292,534.6 Q295,535.6 294,540 L289.6,554 Q288.8,558.6 294,559.6 L314.5,560.6 L330,563.6 Q336.6,565.6 334.6,571 L315,617.5 Q313.6,620.8 309,621.3 L285,625.5" stroke="#1f9dd6" stroke-width="1.984" fill="none" stroke-linecap="round" stroke-linejoin="round"/>
<path d="M267.5,528 L292,534.6 Q295,535.6 294,540 L289.6,554 Q288.8,558.6 294,559.6 L314.5,560.6 L330,563.6 Q336.6,565.6 334.6,571 L315,617.5 Q313.6,620.8 309,621.3 L285,625.5" stroke="#4cbcea" stroke-width="0.7040000000000001" fill="none" stroke-linecap="round" stroke-linejoin="round"/>
<path d="M268,528 L293.5,534.8" stroke="#1478a8" stroke-width="4.6" fill="none" stroke-linecap="round" stroke-linejoin="round"/>
<path d="M268,528 L293.5,534.8" stroke="#1f9dd6" stroke-width="2.852" fill="none" stroke-linecap="round" stroke-linejoin="round"/>
<path d="M268,528 L293.5,534.8" stroke="#4cbcea" stroke-width="1.012" fill="none" stroke-linecap="round" stroke-linejoin="round"/>
<path d="M269,628.2 L287.5,623.4" stroke="#1478a8" stroke-width="4.6" fill="none" stroke-linecap="round" stroke-linejoin="round"/>
<path d="M269,628.2 L287.5,623.4" stroke="#1f9dd6" stroke-width="2.852" fill="none" stroke-linecap="round" stroke-linejoin="round"/>
<path d="M269,628.2 L287.5,623.4" stroke="#4cbcea" stroke-width="1.012" fill="none" stroke-linecap="round" stroke-linejoin="round"/>
<circle cx="266.8" cy="527.8" r="2.1" fill="#e5352b"/>
<circle cx="267.9" cy="628.4" r="2" fill="#e5352b"/>
<path d="M365.5,573.7 L373.8,570.4 L400.3,568.2" stroke="#45b4e6" stroke-width="1.8" fill="none" stroke-linecap="round" stroke-linejoin="round"/>
<line x1="365" y1="574" x2="368" y2="572.6" stroke="#223" stroke-width="1.9" stroke-linecap="round"/>
<line x1="382.8" y1="569.6" x2="400.3" y2="568.2" stroke="#1b6f9a" stroke-width="2.4" stroke-linecap="butt"/>
<rect x="407.2" y="554" width="17.600000000000023" height="41.5" fill="#40359f" rx="0"/>
<line x1="409.2" y1="557.0" x2="422.8" y2="557.0" stroke="#9c98e0" stroke-width="0.7" stroke-dasharray="2.2 0.9" opacity="0.75"/>
<line x1="409.2" y1="559.6" x2="422.8" y2="559.6" stroke="#9c98e0" stroke-width="0.7" stroke-dasharray="2.2 0.9" opacity="0.75"/>
<line x1="409.2" y1="562.2" x2="422.8" y2="562.2" stroke="#9c98e0" stroke-width="0.7" stroke-dasharray="2.2 0.9" opacity="0.75"/>
<line x1="409.2" y1="564.8" x2="422.8" y2="564.8" stroke="#9c98e0" stroke-width="0.7" stroke-dasharray="2.2 0.9" opacity="0.75"/>
<line x1="409.2" y1="567.4" x2="422.8" y2="567.4" stroke="#9c98e0" stroke-width="0.7" stroke-dasharray="2.2 0.9" opacity="0.75"/>
<line x1="409.2" y1="570.0" x2="422.8" y2="570.0" stroke="#9c98e0" stroke-width="0.7" stroke-dasharray="2.2 0.9" opacity="0.75"/>
<line x1="409.2" y1="572.6" x2="422.8" y2="572.6" stroke="#9c98e0" stroke-width="0.7" stroke-dasharray="2.2 0.9" opacity="0.75"/>
<line x1="409.2" y1="575.2" x2="422.8" y2="575.2" stroke="#9c98e0" stroke-width="0.7" stroke-dasharray="2.2 0.9" opacity="0.75"/>
<line x1="409.2" y1="577.8" x2="422.8" y2="577.8" stroke="#9c98e0" stroke-width="0.7" stroke-dasharray="2.2 0.9" opacity="0.75"/>
<line x1="409.2" y1="580.4" x2="422.8" y2="580.4" stroke="#9c98e0" stroke-width="0.7" stroke-dasharray="2.2 0.9" opacity="0.75"/>
<line x1="409.2" y1="583.0" x2="422.8" y2="583.0" stroke="#9c98e0" stroke-width="0.7" stroke-dasharray="2.2 0.9" opacity="0.75"/>
<line x1="409.2" y1="585.6" x2="422.8" y2="585.6" stroke="#9c98e0" stroke-width="0.7" stroke-dasharray="2.2 0.9" opacity="0.75"/>
<line x1="409.2" y1="588.2" x2="422.8" y2="588.2" stroke="#9c98e0" stroke-width="0.7" stroke-dasharray="2.2 0.9" opacity="0.75"/>
<line x1="409.2" y1="590.8" x2="422.8" y2="590.8" stroke="#9c98e0" stroke-width="0.7" stroke-dasharray="2.2 0.9" opacity="0.75"/>
<line x1="409.2" y1="593.4" x2="422.8" y2="593.4" stroke="#9c98e0" stroke-width="0.7" stroke-dasharray="2.2 0.9" opacity="0.75"/>
<rect x="424.3" y="505" width="5.5" height="128.79999999999995" fill="#6a2a9e" rx="0"/>
<rect x="427.325" y="505" width="1.65" height="128.79999999999995" fill="#7e44b4" rx="0"/>
<rect x="400.8" y="499" width="6.899999999999977" height="139" fill="#6a2a9e" rx="0"/>
<rect x="402.18" y="499" width="2.069999999999993" height="139" fill="#7e44b4" rx="0"/>
<polygon points="400.8,493.9 430.5,499 430.5,504.7 400.8,502.4" fill="#8b8b8d" stroke="none" stroke-width="0" stroke-linejoin="round"/>
<line x1="400.8" y1="494.5" x2="430.5" y2="499.6" stroke="#b5b5b8" stroke-width="1.2"/>
<rect x="412.65" y="499.2" width="6" height="1.6" fill="#4c4c50" rx="0"/>
<path d="M398.40000000000003,641.28 Q398.40000000000003,636.8000000000001 403.6,636.8000000000001 Q408.8,636.8000000000001 408.8,641.28 Q403.6,643.52 398.40000000000003,641.28Z" fill="#5f6a66"/>
<ellipse cx="403.6" cy="638.2" rx="3.12" ry="1.26" fill="#9aa5a0"/>
<path d="M421.79999999999995,636.9599999999999 Q421.79999999999995,632.8 426.4,632.8 Q431.0,632.8 431.0,636.9599999999999 Q426.4,639.04 421.79999999999995,636.9599999999999Z" fill="#5f6a66"/>
<ellipse cx="426.4" cy="634.1" rx="2.76" ry="1.1700000000000002" fill="#9aa5a0"/>
<path d="M407.7,515 Q410,514.4 412,513 L415.3,511.3 L418,512.8 Q421,515.2 424.3,517" stroke="#6a2a9e" stroke-width="1.5" fill="none"/>
<rect x="407.7" y="530.1" width="16.6" height="24.2" fill="#fbf7fb" rx="0"/>
<rect x="408.8" y="531.4" width="11.8" height="18" fill="none" stroke="#d98aa0" stroke-width="0.7"/>
<path d="M412.4,547 L412.4,539.5 M410.8,541.5 L412.4,537.8 L414,541.5" stroke="#e5352b" stroke-width="1.1" fill="none"/>
<rect x="409.4" y="532" width="8" height="1.6" fill="#e6b8c6" rx="0"/>
<ellipse cx="416" cy="618.4" rx="2.6" ry="3.6" fill="#5a5f5c" stroke="none" stroke-width="0"/>
<path d="M428.8,571 L428.8,613 Q428.6,618.4 423,618.4 L417.5,618.4" stroke="#1f9dd6" stroke-width="5.8" fill="none" stroke-linecap="round" stroke-linejoin="round"/>
<path d="M428.8,571 L428.8,613 Q428.6,618.4 423,618.4 L417.5,618.4" stroke="#4cbcea" stroke-width="3.596" fill="none" stroke-linecap="round" stroke-linejoin="round"/>
<path d="M428.8,571 L428.8,613 Q428.6,618.4 423,618.4 L417.5,618.4" stroke="#9bdcf6" stroke-width="1.276" fill="none" stroke-linecap="round" stroke-linejoin="round"/>
<rect x="426.4" y="549" width="4.8" height="20" fill="#474a60" rx="0"/>
<rect x="426.4" y="547.2" width="4.8" height="3.6" fill="#e5352b" rx="1.2"/>
<rect x="431.40000000000003" y="537.4" width="5.8" height="31.4" rx="2.6" fill="#6a2a9e"/>
<line x1="434.3" y1="538.9" x2="434.3" y2="567.5" stroke="#8a5cc4" stroke-width="2.2" stroke-dasharray="1.1 0.9"/>
<line x1="434.3" y1="534.0" x2="434.3" y2="537.4" stroke="#45b4e6" stroke-width="1.6" stroke-linecap="round"/>
<rect x="441.0" y="539.4" width="5.8" height="29.4" rx="2.6" fill="#6a2a9e"/>
<line x1="443.9" y1="540.9" x2="443.9" y2="567.5" stroke="#8a5cc4" stroke-width="2.2" stroke-dasharray="1.1 0.9"/>
<line x1="443.9" y1="536.0" x2="443.9" y2="539.4" stroke="#45b4e6" stroke-width="1.6" stroke-linecap="round"/>
<path d="M422.2,533.6 Q418.1,533.8 418.2,539 L418.8,564.7 Q419,570.2 424,570.2 L470.7,570.2 Q477.2,569.4 477.6,561.9 L478.3,548.1 Q478.3,541.6 472,539.2 L470.7,538.4 Z" stroke="#45b4e6" stroke-width="1.8" fill="none" stroke-linecap="round" stroke-linejoin="round"/>
<path d="M423,535 Q419.6,535.2 419.7,539.4 L420.2,564.2 Q420.4,568.7 424.4,568.7" stroke="#a9e0f8" stroke-width="0.6" fill="none" stroke-linecap="round" stroke-linejoin="round"/>
<ellipse cx="558" cy="549.4" rx="27.7" ry="31.6" fill="none" stroke="#2aa2dc" stroke-width="1.7"/>
<line x1="560.3" y1="548.6" x2="550.4" y2="520.9" stroke="#2aa2dc" stroke-width="0.9" stroke-linecap="round"/>
<line x1="560.3" y1="548.6" x2="532.2" y2="541.4" stroke="#2aa2dc" stroke-width="0.9" stroke-linecap="round"/>
<line x1="560.3" y1="548.6" x2="541.3" y2="572.6" stroke="#2aa2dc" stroke-width="0.9" stroke-linecap="round"/>
<line x1="560.3" y1="548.6" x2="566" y2="580.5" stroke="#2aa2dc" stroke-width="0.9" stroke-linecap="round"/>
<line x1="560.3" y1="548.6" x2="584" y2="560" stroke="#2aa2dc" stroke-width="0.9" stroke-linecap="round"/>
<line x1="560.3" y1="548.6" x2="572" y2="519.5" stroke="#2aa2dc" stroke-width="0.9" stroke-linecap="round"/>
<circle cx="539" cy="572.6" r="1.3" fill="#e5352b"/>
<rect x="568.5" y="521.9" width="15.899999999999977" height="79.30000000000007" fill="#40359f" rx="0"/>
<line x1="570.5" y1="565.0" x2="582.4" y2="565.0" stroke="#9c98e0" stroke-width="0.7" stroke-dasharray="2.2 0.9" opacity="0.75"/>
<line x1="570.5" y1="567.6" x2="582.4" y2="567.6" stroke="#9c98e0" stroke-width="0.7" stroke-dasharray="2.2 0.9" opacity="0.75"/>
<line x1="570.5" y1="570.2" x2="582.4" y2="570.2" stroke="#9c98e0" stroke-width="0.7" stroke-dasharray="2.2 0.9" opacity="0.75"/>
<line x1="570.5" y1="572.8" x2="582.4" y2="572.8" stroke="#9c98e0" stroke-width="0.7" stroke-dasharray="2.2 0.9" opacity="0.75"/>
<line x1="570.5" y1="575.4" x2="582.4" y2="575.4" stroke="#9c98e0" stroke-width="0.7" stroke-dasharray="2.2 0.9" opacity="0.75"/>
<line x1="570.5" y1="578.0" x2="582.4" y2="578.0" stroke="#9c98e0" stroke-width="0.7" stroke-dasharray="2.2 0.9" opacity="0.75"/>
<line x1="570.5" y1="580.6" x2="582.4" y2="580.6" stroke="#9c98e0" stroke-width="0.7" stroke-dasharray="2.2 0.9" opacity="0.75"/>
<line x1="570.5" y1="583.2" x2="582.4" y2="583.2" stroke="#9c98e0" stroke-width="0.7" stroke-dasharray="2.2 0.9" opacity="0.75"/>
<line x1="570.5" y1="585.8" x2="582.4" y2="585.8" stroke="#9c98e0" stroke-width="0.7" stroke-dasharray="2.2 0.9" opacity="0.75"/>
<line x1="570.5" y1="588.4" x2="582.4" y2="588.4" stroke="#9c98e0" stroke-width="0.7" stroke-dasharray="2.2 0.9" opacity="0.75"/>
<line x1="570.5" y1="591.0" x2="582.4" y2="591.0" stroke="#9c98e0" stroke-width="0.7" stroke-dasharray="2.2 0.9" opacity="0.75"/>
<line x1="570.5" y1="593.6" x2="582.4" y2="593.6" stroke="#9c98e0" stroke-width="0.7" stroke-dasharray="2.2 0.9" opacity="0.75"/>
<line x1="570.5" y1="596.2" x2="582.4" y2="596.2" stroke="#9c98e0" stroke-width="0.7" stroke-dasharray="2.2 0.9" opacity="0.75"/>
<line x1="570.5" y1="598.8" x2="582.4" y2="598.8" stroke="#9c98e0" stroke-width="0.7" stroke-dasharray="2.2 0.9" opacity="0.75"/>
<rect x="583.9" y="510" width="5.399999999999977" height="128.10000000000002" fill="#6a2a9e" rx="0"/>
<rect x="586.87" y="510" width="1.6199999999999932" height="128.10000000000002" fill="#7e44b4" rx="0"/>
<rect x="563.1" y="504" width="5.899999999999977" height="138.39999999999998" fill="#6a2a9e" rx="0"/>
<rect x="564.28" y="504" width="1.7699999999999931" height="138.39999999999998" fill="#7e44b4" rx="0"/>
<rect x="570.2" y="533.1" width="13.699999999999932" height="28.899999999999977" fill="#e8e6f0" rx="0"/>
<path d="M575.55,550.55 L576.05,545.55 M578.55,550.55 L578.05,544.55" stroke="#e5352b" stroke-width="1.2" fill="none"/>
<rect x="571.2" y="534.1" width="11.699999999999932" height="6.357999999999995" fill="#b9a8d8" rx="0"/>
<polygon points="563.1,500.3 590,506.4 590,511.9 563.1,509.5" fill="#8b8b8d" stroke="none" stroke-width="0" stroke-linejoin="round"/>
<line x1="563.1" y1="500.90000000000003" x2="590" y2="507.0" stroke="#b5b5b8" stroke-width="1.2"/>
<rect x="573.55" y="506.22499999999997" width="6" height="1.6" fill="#4c4c50" rx="0"/>
<path d="M560.8,645.68 Q560.8,641.2 565.8,641.2 Q570.8,641.2 570.8,645.68 Q565.8,647.92 560.8,645.68Z" fill="#5f6a66"/>
<ellipse cx="565.8" cy="642.6" rx="3.0" ry="1.26" fill="#9aa5a0"/>
<path d="M582.0,641.24 Q582.0,637.4 586.4,637.4 Q590.8,637.4 590.8,641.24 Q586.4,643.16 582.0,641.24Z" fill="#5f6a66"/>
<ellipse cx="586.4" cy="638.5999999999999" rx="2.64" ry="1.08" fill="#9aa5a0"/>
<line x1="569" y1="624" x2="583.9" y2="620" stroke="#6a2a9e" stroke-width="1.4" stroke-linecap="round"/>
<path d="M573.3,530 Q574,524.5 577.8,523.9 L582.5,524.2 Q585,524.8 585.2,529 L587,554.4" stroke="#2aa2dc" stroke-width="1.9" fill="none" stroke-linecap="round" stroke-linejoin="round"/>
<line x1="574" y1="528.5" x2="579" y2="524.6" stroke="#223044" stroke-width="2.2" stroke-linecap="round"/>
<ellipse cx="596.1" cy="555.9" rx="30.4" ry="40.3" fill="none" stroke="#2aa2dc" stroke-width="2.1"/>
<ellipse cx="596.1" cy="555.9" rx="29.4" ry="39.099999999999994" fill="none" stroke="#7cccf0" stroke-width="0.5"/>
<line x1="599.2" y1="555.9" x2="585.4" y2="520.9" stroke="#2aa2dc" stroke-width="1" stroke-linecap="round"/>
<line x1="599.2" y1="555.9" x2="612.9" y2="528.5" stroke="#2aa2dc" stroke-width="1" stroke-linecap="round"/>
<line x1="599.2" y1="555.9" x2="626.5" y2="558.2" stroke="#2aa2dc" stroke-width="1" stroke-linecap="round"/>
<line x1="599.2" y1="555.9" x2="611.3" y2="590.6" stroke="#2aa2dc" stroke-width="1" stroke-linecap="round"/>
<line x1="599.2" y1="555.9" x2="587" y2="587.8" stroke="#2aa2dc" stroke-width="1" stroke-linecap="round"/>
<line x1="599.2" y1="555.9" x2="566" y2="551" stroke="#2aa2dc" stroke-width="1" stroke-linecap="round"/>
<line x1="568" y1="552.5" x2="631" y2="557.7" stroke="#2aa2dc" stroke-width="1.7" stroke-linecap="round"/>
<line x1="582.4" y1="555.4" x2="597" y2="556.2" stroke="#30353a" stroke-width="3" stroke-linecap="round"/>
<circle cx="568.2" cy="552.5" r="1.8" fill="#e5352b"/>
<circle cx="600" cy="556.2" r="1.6" fill="#e5352b"/>
<circle cx="631.4" cy="557.7" r="1.7" fill="#e5352b"/>
<polygon points="715.2,600.5 734.8,597.3 739.3,600.5 729.1,603.8 719,603.8" fill="#1f9dd6" stroke="#1478a8" stroke-width="0.5" stroke-linejoin="round"/>
<path d="M728.5,603.6 L728.5,618 Q729,623.5 735,624.8 L753.2,628.4" stroke="#1f9dd6" stroke-width="2.8" fill="none" stroke-linecap="round" stroke-linejoin="round"/>
<path d="M728.5,617 L753.2,614.4" stroke="#1f9dd6" stroke-width="2.4" fill="none" stroke-linecap="round" stroke-linejoin="round"/>
<path d="M736.1,601.7 L753.2,608.1" stroke="#1f9dd6" stroke-width="2.6" fill="none" stroke-linecap="round" stroke-linejoin="round"/>
<path d="M746.9,609.4 L753.2,614.4" stroke="#1f9dd6" stroke-width="2.2" fill="none" stroke-linecap="round" stroke-linejoin="round"/>
<path d="M735,622 Q742,614 753,613" stroke="#1f9dd6" stroke-width="1.8" fill="none" stroke-linecap="round" stroke-linejoin="round"/>
<path d="M743.1,605.5 L743.1,638.6" stroke="#1478a8" stroke-width="2.6" fill="none" stroke-linecap="round" stroke-linejoin="round"/>
<path d="M743.1,605.5 L743.1,638.6" stroke="#1f9dd6" stroke-width="1.612" fill="none" stroke-linecap="round" stroke-linejoin="round"/>
<path d="M743.1,605.5 L743.1,638.6" stroke="#4cbcea" stroke-width="0.5720000000000001" fill="none" stroke-linecap="round" stroke-linejoin="round"/>
<rect x="758.7" y="539.8" width="15.699999999999932" height="72.0" fill="#40359f" rx="0"/>
<line x1="760.7" y1="571.9" x2="772.4" y2="571.9" stroke="#9c98e0" stroke-width="0.7" stroke-dasharray="2.2 0.9" opacity="0.75"/>
<line x1="760.7" y1="574.5" x2="772.4" y2="574.5" stroke="#9c98e0" stroke-width="0.7" stroke-dasharray="2.2 0.9" opacity="0.75"/>
<line x1="760.7" y1="577.1" x2="772.4" y2="577.1" stroke="#9c98e0" stroke-width="0.7" stroke-dasharray="2.2 0.9" opacity="0.75"/>
<line x1="760.7" y1="579.7" x2="772.4" y2="579.7" stroke="#9c98e0" stroke-width="0.7" stroke-dasharray="2.2 0.9" opacity="0.75"/>
<line x1="760.7" y1="582.3" x2="772.4" y2="582.3" stroke="#9c98e0" stroke-width="0.7" stroke-dasharray="2.2 0.9" opacity="0.75"/>
<line x1="760.7" y1="584.9" x2="772.4" y2="584.9" stroke="#9c98e0" stroke-width="0.7" stroke-dasharray="2.2 0.9" opacity="0.75"/>
<line x1="760.7" y1="587.5" x2="772.4" y2="587.5" stroke="#9c98e0" stroke-width="0.7" stroke-dasharray="2.2 0.9" opacity="0.75"/>
<line x1="760.7" y1="590.1" x2="772.4" y2="590.1" stroke="#9c98e0" stroke-width="0.7" stroke-dasharray="2.2 0.9" opacity="0.75"/>
<line x1="760.7" y1="592.7" x2="772.4" y2="592.7" stroke="#9c98e0" stroke-width="0.7" stroke-dasharray="2.2 0.9" opacity="0.75"/>
<line x1="760.7" y1="595.3" x2="772.4" y2="595.3" stroke="#9c98e0" stroke-width="0.7" stroke-dasharray="2.2 0.9" opacity="0.75"/>
<line x1="760.7" y1="597.9" x2="772.4" y2="597.9" stroke="#9c98e0" stroke-width="0.7" stroke-dasharray="2.2 0.9" opacity="0.75"/>
<line x1="760.7" y1="600.5" x2="772.4" y2="600.5" stroke="#9c98e0" stroke-width="0.7" stroke-dasharray="2.2 0.9" opacity="0.75"/>
<line x1="760.7" y1="603.1" x2="772.4" y2="603.1" stroke="#9c98e0" stroke-width="0.7" stroke-dasharray="2.2 0.9" opacity="0.75"/>
<line x1="760.7" y1="605.7" x2="772.4" y2="605.7" stroke="#9c98e0" stroke-width="0.7" stroke-dasharray="2.2 0.9" opacity="0.75"/>
<line x1="760.7" y1="608.3" x2="772.4" y2="608.3" stroke="#9c98e0" stroke-width="0.7" stroke-dasharray="2.2 0.9" opacity="0.75"/>
<path d="M759.2,530.9 Q760.7,528.7 765.0,528.3 L766.5,526.9 L768.0,528.3 Q772.4,528.7 773.9,530.9" stroke="#6a2a9e" stroke-width="1.1" fill="none"/>
<rect x="773.9" y="515" width="5.5" height="124.5" fill="#6a2a9e" rx="0"/>
<rect x="776.925" y="515" width="1.65" height="124.5" fill="#7e44b4" rx="0"/>
<rect x="753.1" y="511" width="6.100000000000023" height="132.60000000000002" fill="#6a2a9e" rx="0"/>
<rect x="754.32" y="511" width="1.8300000000000067" height="132.60000000000002" fill="#7e44b4" rx="0"/>
<rect x="760.6" y="542.6" width="11.899999999999977" height="26.299999999999955" fill="#d9d4ea" rx="0"/>
<path d="M765.05,558.75 L765.55,553.75 M768.05,558.75 L767.55,552.75" stroke="#e5352b" stroke-width="1.2" fill="none"/>
<rect x="761.6" y="543.6" width="9.899999999999977" height="5.78599999999999" fill="#b9a8d8" rx="0"/>
<polygon points="752.6,507.2 780,507.2 780,516.3 752.6,516.3" fill="#8b8b8d" stroke="none" stroke-width="0" stroke-linejoin="round"/>
<line x1="752.6" y1="507.8" x2="780" y2="507.8" stroke="#b5b5b8" stroke-width="1.2"/>
<rect x="763.3" y="510.94999999999993" width="6" height="1.6" fill="#4c4c50" rx="0"/>
<path d="M751.1999999999999,647.4799999999999 Q751.1999999999999,643.0 756.4,643.0 Q761.6,643.0 761.6,647.4799999999999 Q756.4,649.7199999999999 751.1999999999999,647.4799999999999Z" fill="#5f6a66"/>
<ellipse cx="756.4" cy="644.4" rx="3.12" ry="1.26" fill="#9aa5a0"/>
<path d="M770.4,644.56 Q770.4,640.4 775,640.4 Q779.6,640.4 779.6,644.56 Q775,646.64 770.4,644.56Z" fill="#5f6a66"/>
<ellipse cx="775" cy="641.7" rx="2.76" ry="1.1700000000000002" fill="#9aa5a0"/>
<rect x="759.2" y="516.3" width="14.7" height="1.6" fill="#6a2a9e" rx="0"/>
<rect x="759" y="611.8" width="6" height="27" fill="#6a2a9e" rx="0"/>
<path d="M747.5,590 L771,593.1" stroke="#50207e" stroke-width="2.2" fill="none" stroke-linecap="round" stroke-linejoin="round"/>
<path d="M747.5,590 L771,593.1" stroke="#6a2a9e" stroke-width="1.364" fill="none" stroke-linecap="round" stroke-linejoin="round"/>
<path d="M747.5,590 L771,593.1" stroke="#7e44b4" stroke-width="0.48400000000000004" fill="none" stroke-linecap="round" stroke-linejoin="round"/>
<line x1="778.6" y1="579.1" x2="781.8" y2="579.1" stroke="#3a2a60" stroke-width="1.8" stroke-linecap="round"/>
<polygon points="794.5,602.4 817.4,602.8 816.7,605.2 796.4,605.2" fill="#1f9dd6" stroke="#1478a8" stroke-width="0.5" stroke-linejoin="round"/>
<path d="M805.3,605.5 L803,622 Q801,631 793.9,633 L776.1,630.9" stroke="#1f9dd6" stroke-width="2.9" fill="none" stroke-linecap="round" stroke-linejoin="round"/>
<path d="M798.9,608.1 L773.6,623.3" stroke="#1f9dd6" stroke-width="2.6" fill="none" stroke-linecap="round" stroke-linejoin="round"/>
<path d="M796,606.5 L774,619.5" stroke="#1f9dd6" stroke-width="1.8" fill="none" stroke-linecap="round" stroke-linejoin="round"/>
<path d="M800,612 L776,627" stroke="#1f9dd6" stroke-width="1.8" fill="none" stroke-linecap="round" stroke-linejoin="round"/>
<path d="M786.2,623.3 L802.8,620.8" stroke="#1f9dd6" stroke-width="2.4" fill="none" stroke-linecap="round" stroke-linejoin="round"/>
<path d="M790.7,620.8 L790.7,648" stroke="#1478a8" stroke-width="2.6" fill="none" stroke-linecap="round" stroke-linejoin="round"/>
<path d="M790.7,620.8 L790.7,648" stroke="#1f9dd6" stroke-width="1.612" fill="none" stroke-linecap="round" stroke-linejoin="round"/>
<path d="M790.7,620.8 L790.7,648" stroke="#4cbcea" stroke-width="0.5720000000000001" fill="none" stroke-linecap="round" stroke-linejoin="round"/>
<ellipse cx="764.7" cy="629.7" rx="3.4" ry="3.8" fill="#4a4560" stroke="none" stroke-width="0"/>
<path d="M757.9,588.6 L771,629.7" stroke="#1478a8" stroke-width="5" fill="none" stroke-linecap="round" stroke-linejoin="round"/>
<path d="M757.9,588.6 L771,629.7" stroke="#1f9dd6" stroke-width="3.1" fill="none" stroke-linecap="round" stroke-linejoin="round"/>
<path d="M757.9,588.6 L771,629.7" stroke="#4cbcea" stroke-width="1.1" fill="none" stroke-linecap="round" stroke-linejoin="round"/>
<ellipse cx="757.6" cy="587.6" rx="1.6" ry="1.2" fill="#e8f4fa" stroke="none" stroke-width="0"/>
<path d="M768,631 L776,631" stroke="#1478a8" stroke-width="3.4" fill="none" stroke-linecap="round" stroke-linejoin="round"/>
<path d="M768,631 L776,631" stroke="#1f9dd6" stroke-width="2.108" fill="none" stroke-linecap="round" stroke-linejoin="round"/>
<path d="M768,631 L776,631" stroke="#4cbcea" stroke-width="0.748" fill="none" stroke-linecap="round" stroke-linejoin="round"/>
<path d="M776.1,636 Q790,637 801.5,643.6" stroke="#1478a8" stroke-width="3" fill="none" stroke-linecap="round" stroke-linejoin="round"/>
<path d="M776.1,636 Q790,637 801.5,643.6" stroke="#1f9dd6" stroke-width="1.8599999999999999" fill="none" stroke-linecap="round" stroke-linejoin="round"/>
<path d="M776.1,636 Q790,637 801.5,643.6" stroke="#4cbcea" stroke-width="0.66" fill="none" stroke-linecap="round" stroke-linejoin="round"/>
<path d="M771,630 L771,640" stroke="#1f9dd6" stroke-width="3" fill="none" stroke-linecap="round" stroke-linejoin="round"/>
<circle cx="793.2" cy="635.4" r="2.8" fill="#e5352b"/>
<circle cx="741.8" cy="603.6" r="1.5" fill="#e5352b"/>
<circle cx="747.5" cy="610" r="1.5" fill="#e5352b"/>
<circle cx="798.9" cy="609.4" r="1.5" fill="#e5352b"/>
<circle cx="790.7" cy="619.3" r="1.5" fill="#e5352b"/>
<circle cx="772.9" cy="612.5" r="1.5" fill="#e5352b"/>
<circle cx="775.5" cy="628.1" r="1.5" fill="#e5352b"/>
<circle cx="802.3" cy="643.8" r="1.5" fill="#e5352b"/>
<ellipse cx="888.1" cy="570.8" rx="8.5" ry="4.8" fill="none" stroke="#c9aa22" stroke-width="2.3" transform="rotate(-47 888.1 570.8)"/>
<ellipse cx="888.1" cy="570.8" rx="8.5" ry="4.8" fill="none" stroke="#f3e04c" stroke-width="1.4" transform="rotate(-47 888.1 570.8)"/>
<g transform="rotate(-47 888.1 570.8)" stroke="#e4cc3a" stroke-width="1"><line x1="879.6" y1="570.8" x2="896.6" y2="570.8"/><line x1="888.1" y1="566.0" x2="888.1" y2="575.5999999999999"/><line x1="882.1" y1="567.4" x2="894.1" y2="574.2"/></g>
<circle cx="888.1" cy="570.8" r="1.2" fill="#8a7a30"/>
<path d="M891.6,583 L891.6,631" stroke="#1478a8" stroke-width="4.8" fill="none" stroke-linecap="round" stroke-linejoin="round"/>
<path d="M891.6,583 L891.6,631" stroke="#1f9dd6" stroke-width="2.976" fill="none" stroke-linecap="round" stroke-linejoin="round"/>
<path d="M891.6,583 L891.6,631" stroke="#4cbcea" stroke-width="1.056" fill="none" stroke-linecap="round" stroke-linejoin="round"/>
<circle cx="891.2" cy="582" r="1.8" fill="#e5352b"/>
<rect x="900.1" y="552.5" width="11.100000000000023" height="59.0" fill="#40359f" rx="0"/>
<line x1="902.1" y1="579.7" x2="909.2" y2="579.7" stroke="#9c98e0" stroke-width="0.7" stroke-dasharray="2.2 0.9" opacity="0.75"/>
<line x1="902.1" y1="582.3" x2="909.2" y2="582.3" stroke="#9c98e0" stroke-width="0.7" stroke-dasharray="2.2 0.9" opacity="0.75"/>
<line x1="902.1" y1="584.9" x2="909.2" y2="584.9" stroke="#9c98e0" stroke-width="0.7" stroke-dasharray="2.2 0.9" opacity="0.75"/>
<line x1="902.1" y1="587.5" x2="909.2" y2="587.5" stroke="#9c98e0" stroke-width="0.7" stroke-dasharray="2.2 0.9" opacity="0.75"/>
<line x1="902.1" y1="590.1" x2="909.2" y2="590.1" stroke="#9c98e0" stroke-width="0.7" stroke-dasharray="2.2 0.9" opacity="0.75"/>
<line x1="902.1" y1="592.7" x2="909.2" y2="592.7" stroke="#9c98e0" stroke-width="0.7" stroke-dasharray="2.2 0.9" opacity="0.75"/>
<line x1="902.1" y1="595.3" x2="909.2" y2="595.3" stroke="#9c98e0" stroke-width="0.7" stroke-dasharray="2.2 0.9" opacity="0.75"/>
<line x1="902.1" y1="597.9" x2="909.2" y2="597.9" stroke="#9c98e0" stroke-width="0.7" stroke-dasharray="2.2 0.9" opacity="0.75"/>
<line x1="902.1" y1="600.5" x2="909.2" y2="600.5" stroke="#9c98e0" stroke-width="0.7" stroke-dasharray="2.2 0.9" opacity="0.75"/>
<line x1="902.1" y1="603.1" x2="909.2" y2="603.1" stroke="#9c98e0" stroke-width="0.7" stroke-dasharray="2.2 0.9" opacity="0.75"/>
<line x1="902.1" y1="605.7" x2="909.2" y2="605.7" stroke="#9c98e0" stroke-width="0.7" stroke-dasharray="2.2 0.9" opacity="0.75"/>
<line x1="902.1" y1="608.3" x2="909.2" y2="608.3" stroke="#9c98e0" stroke-width="0.7" stroke-dasharray="2.2 0.9" opacity="0.75"/>
<rect x="910.7" y="528.5" width="5.099999999999909" height="110.79999999999995" fill="#6a2a9e" rx="0"/>
<rect x="913.505" y="528.5" width="1.5299999999999727" height="110.79999999999995" fill="#7e44b4" rx="0"/>
<rect x="894" y="521" width="6.600000000000023" height="123.5" fill="#6a2a9e" rx="0"/>
<rect x="895.32" y="521" width="1.9800000000000066" height="123.5" fill="#7e44b4" rx="0"/>
<rect x="901" y="553.3" width="9.399999999999977" height="23.40000000000009" fill="#cfcadc" rx="0"/>
<path d="M904.2,568.0 L904.7,563.0 M907.2,568.0 L906.7,562.0" stroke="#e5352b" stroke-width="1.2" fill="none"/>
<rect x="902" y="554.3" width="7.399999999999977" height="5.14800000000002" fill="#b9a8d8" rx="0"/>
<polygon points="893.9,518.4 916.7,518.4 916.7,528.4 893.9,528.4" fill="#8b8b8d" stroke="none" stroke-width="0" stroke-linejoin="round"/>
<line x1="893.9" y1="519.0" x2="916.7" y2="519.0" stroke="#b5b5b8" stroke-width="1.2"/>
<rect x="902.3" y="522.6" width="6" height="1.6" fill="#4c4c50" rx="0"/>
<path d="M892.0999999999999,648.4799999999999 Q892.0999999999999,644.0 897.3,644.0 Q902.5,644.0 902.5,648.4799999999999 Q897.3,650.7199999999999 892.0999999999999,648.4799999999999Z" fill="#5f6a66"/>
<ellipse cx="897.3" cy="645.4" rx="3.12" ry="1.26" fill="#9aa5a0"/>
<path d="M908.1999999999999,643.16 Q908.1999999999999,639.0 912.8,639.0 Q917.4,639.0 917.4,643.16 Q912.8,645.24 908.1999999999999,643.16Z" fill="#5f6a66"/>
<ellipse cx="912.8" cy="640.3000000000001" rx="2.76" ry="1.1700000000000002" fill="#9aa5a0"/>
<path d="M889.4,587.9 Q881,587.5 876.3,584.6 Q871,580 868.4,574.1" stroke="#1478a8" stroke-width="3.3" fill="none" stroke-linecap="round" stroke-linejoin="round"/>
<path d="M889.4,587.9 Q881,587.5 876.3,584.6 Q871,580 868.4,574.1" stroke="#1f9dd6" stroke-width="2.046" fill="none" stroke-linecap="round" stroke-linejoin="round"/>
<path d="M889.4,587.9 Q881,587.5 876.3,584.6 Q871,580 868.4,574.1" stroke="#4cbcea" stroke-width="0.726" fill="none" stroke-linecap="round" stroke-linejoin="round"/>
<ellipse cx="866.4" cy="570.8" rx="12.2" ry="7.2" fill="none" stroke="#c9aa22" stroke-width="2.5" transform="rotate(-22 866.4 570.8)"/>
<ellipse cx="866.4" cy="570.8" rx="12.2" ry="7.2" fill="none" stroke="#f3e04c" stroke-width="1.6" transform="rotate(-22 866.4 570.8)"/>
<g transform="rotate(-22 866.4 570.8)" stroke="#e4cc3a" stroke-width="1"><line x1="854.1999999999999" y1="570.8" x2="878.6" y2="570.8"/><line x1="866.4" y1="563.5999999999999" x2="866.4" y2="578.0"/><line x1="857.9" y1="565.8" x2="874.9" y2="575.8"/></g>
<circle cx="866.4" cy="570.8" r="1.2" fill="#8a7a30"/>
<circle cx="858.5" cy="576.7" r="1.4" fill="#e5352b"/>
<ellipse cx="904.7" cy="633.9" rx="2.6" ry="3.6" fill="#566058" stroke="none" stroke-width="0"/>
<path d="M921.6,595 L921.6,629 Q921.4,636 914,636 L906.5,634" stroke="#1478a8" stroke-width="5.2" fill="none" stroke-linecap="round" stroke-linejoin="round"/>
<path d="M921.6,595 L921.6,629 Q921.4,636 914,636 L906.5,634" stroke="#1f9dd6" stroke-width="3.224" fill="none" stroke-linecap="round" stroke-linejoin="round"/>
<path d="M921.6,595 L921.6,629 Q921.4,636 914,636 L906.5,634" stroke="#4cbcea" stroke-width="1.1440000000000001" fill="none" stroke-linecap="round" stroke-linejoin="round"/>
<path d="M920,599.7 Q913,600 913.2,596 L914.6,592" stroke="#1f9dd6" stroke-width="2.6" fill="none" stroke-linecap="round" stroke-linejoin="round"/>
<path d="M923,599.5 Q930,599 934,595 L942,587.9" stroke="#1478a8" stroke-width="3.2" fill="none" stroke-linecap="round" stroke-linejoin="round"/>
<path d="M923,599.5 Q930,599 934,595 L942,587.9" stroke="#1f9dd6" stroke-width="1.984" fill="none" stroke-linecap="round" stroke-linejoin="round"/>
<path d="M923,599.5 Q930,599 934,595 L942,587.9" stroke="#4cbcea" stroke-width="0.7040000000000001" fill="none" stroke-linecap="round" stroke-linejoin="round"/>
<ellipse cx="924.3" cy="584.6" rx="16" ry="8.2" fill="none" stroke="#c9aa22" stroke-width="2.5" transform="rotate(43 924.3 584.6)"/>
<ellipse cx="924.3" cy="584.6" rx="16" ry="8.2" fill="none" stroke="#f3e04c" stroke-width="1.6" transform="rotate(43 924.3 584.6)"/>
<g transform="rotate(43 924.3 584.6)" stroke="#e4cc3a" stroke-width="1"><line x1="908.3" y1="584.6" x2="940.3" y2="584.6"/><line x1="924.3" y1="576.4" x2="924.3" y2="592.8000000000001"/><line x1="913.1" y1="578.9" x2="935.5" y2="590.3"/></g>
<circle cx="924.3" cy="584.6" r="1.2" fill="#8a7a30"/>
<ellipse cx="949.2" cy="581.9" rx="13.4" ry="6.6" fill="none" stroke="#c9aa22" stroke-width="2.5" transform="rotate(43 949.2 581.9)"/>
<ellipse cx="949.2" cy="581.9" rx="13.4" ry="6.6" fill="none" stroke="#f3e04c" stroke-width="1.6" transform="rotate(43 949.2 581.9)"/>
<g transform="rotate(43 949.2 581.9)" stroke="#e4cc3a" stroke-width="1"><line x1="935.8000000000001" y1="581.9" x2="962.6" y2="581.9"/><line x1="949.2" y1="575.3" x2="949.2" y2="588.5"/><line x1="939.8" y1="577.3" x2="958.6" y2="586.5"/></g>
<circle cx="949.2" cy="581.9" r="1.2" fill="#8a7a30"/>
<circle cx="936.8" cy="592.5" r="1.8" fill="#e5352b"/>
<circle cx="955.2" cy="588.5" r="1.5" fill="#e5352b"/>
</g>
<text class="wm" x="71.1" y="395" textLength="880.7" lengthAdjust="spacing">烟台市丰源健身器材有限公司</text>
<text class="ali" x="726" y="687.5">alibaba.com.cn</text>
</svg>
</body>
</html>
